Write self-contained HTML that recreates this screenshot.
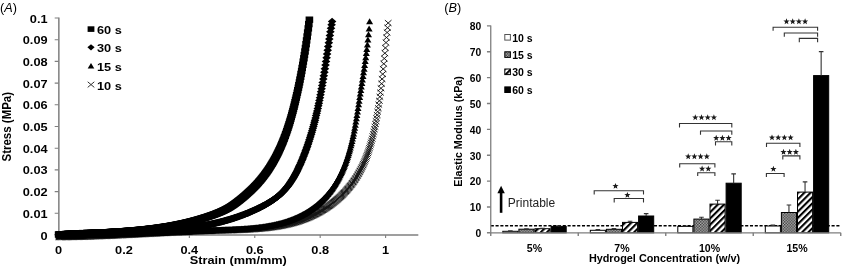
<!DOCTYPE html>
<html><head><meta charset="utf-8"><style>
html,body{margin:0;padding:0;background:#fff;}
svg{display:block;font-family:"Liberation Sans",sans-serif;will-change:transform;}
</style></head><body>
<svg width="842" height="267" viewBox="0 0 842 267">
<rect width="842" height="267" fill="#fff"/>
<text x="0.1" y="11.6" font-size="12.7" fill="#000">(<tspan font-style="italic">A</tspan>)</text>
<path d="M58.50,235.00H418.31" fill="none" stroke="#7f7f7f" stroke-width="1.3"/>
<path d="M58.85,17.50V235.60" fill="none" stroke="#7f7f7f" stroke-width="1.5"/>
<text transform="translate(47.60,239.50) scale(1.16,1)" text-anchor="end" font-size="11" font-weight="bold" fill="#000">0</text>
<text transform="translate(47.60,217.80) scale(1.16,1)" text-anchor="end" font-size="11" font-weight="bold" fill="#000">0.01</text>
<text transform="translate(47.60,196.10) scale(1.16,1)" text-anchor="end" font-size="11" font-weight="bold" fill="#000">0.02</text>
<text transform="translate(47.60,174.40) scale(1.16,1)" text-anchor="end" font-size="11" font-weight="bold" fill="#000">0.03</text>
<text transform="translate(47.60,152.70) scale(1.16,1)" text-anchor="end" font-size="11" font-weight="bold" fill="#000">0.04</text>
<text transform="translate(47.60,131.00) scale(1.16,1)" text-anchor="end" font-size="11" font-weight="bold" fill="#000">0.05</text>
<text transform="translate(47.60,109.30) scale(1.16,1)" text-anchor="end" font-size="11" font-weight="bold" fill="#000">0.06</text>
<text transform="translate(47.60,87.60) scale(1.16,1)" text-anchor="end" font-size="11" font-weight="bold" fill="#000">0.07</text>
<text transform="translate(47.60,65.90) scale(1.16,1)" text-anchor="end" font-size="11" font-weight="bold" fill="#000">0.08</text>
<text transform="translate(47.60,44.20) scale(1.16,1)" text-anchor="end" font-size="11" font-weight="bold" fill="#000">0.09</text>
<text transform="translate(47.60,22.50) scale(1.16,1)" text-anchor="end" font-size="11" font-weight="bold" fill="#000">0.1</text>
<text transform="translate(58.50,253.50) scale(1.16,1)" text-anchor="middle" font-size="11" font-weight="bold" fill="#000">0</text>
<text transform="translate(123.92,253.50) scale(1.16,1)" text-anchor="middle" font-size="11" font-weight="bold" fill="#000">0.2</text>
<text transform="translate(189.34,253.50) scale(1.16,1)" text-anchor="middle" font-size="11" font-weight="bold" fill="#000">0.4</text>
<text transform="translate(254.76,253.50) scale(1.16,1)" text-anchor="middle" font-size="11" font-weight="bold" fill="#000">0.6</text>
<text transform="translate(320.18,253.50) scale(1.16,1)" text-anchor="middle" font-size="11" font-weight="bold" fill="#000">0.8</text>
<text transform="translate(385.60,253.50) scale(1.16,1)" text-anchor="middle" font-size="11" font-weight="bold" fill="#000">1</text>
<path d="M54.70,235.00H58.50M54.70,213.30H58.50M54.70,191.60H58.50M54.70,169.90H58.50M54.70,148.20H58.50M54.70,126.50H58.50M54.70,104.80H58.50M54.70,83.10H58.50M54.70,61.40H58.50M54.70,39.70H58.50M54.70,18.00H58.50M58.50,235.00V238.00M123.92,235.00V238.00M189.34,235.00V238.00M254.76,235.00V238.00M320.18,235.00V238.00M385.60,235.00V238.00" stroke="#7f7f7f" stroke-width="1.1" fill="none"/>
<text transform="translate(238.30,263.60) scale(1.16,1)" text-anchor="middle" font-size="11" font-weight="bold" fill="#000">Strain (mm/mm)</text>
<text transform="translate(11.2,126.7) scale(1.16,1) rotate(-90)" text-anchor="middle" font-size="11.5" font-weight="bold">Stress (MPa)</text>
<defs><rect id="mq" x="-3.8" y="-3.2" width="7.6" height="6.4" fill="#000"/><path id="md" d="M0,-3.7L4.3,0L0,3.7L-4.3,0Z" fill="#000"/><path id="mt" d="M0,-3.3L3.5,2.7H-3.5Z" fill="#000"/><path id="mx" d="M-3.3,-2.9L3.3,2.9M3.3,-2.9L-3.3,2.9" stroke="#151515" stroke-width="0.95" fill="none"/><rect id="lq" x="-3.4" y="-2.8" width="6.8" height="5.6" fill="#000"/><path id="ld" d="M0,-3.1L3.6,0L0,3.1L-3.6,0Z" fill="#000"/><path id="lt" d="M0,-3.1L3.3,2.5H-3.3Z" fill="#000"/><path id="lx" d="M-3.3,-2.8L3.3,2.8M3.3,-2.8L-3.3,2.8" stroke="#333" stroke-width="1" fill="none"/></defs>
<g><use href="#mx" x="58.7" y="237.0"/><use href="#mx" x="59.3" y="237.0"/><use href="#mx" x="59.8" y="237.0"/><use href="#mx" x="60.4" y="237.0"/><use href="#mx" x="60.9" y="237.0"/><use href="#mx" x="61.5" y="237.0"/><use href="#mx" x="62.0" y="237.0"/><use href="#mx" x="62.6" y="236.9"/><use href="#mx" x="63.1" y="236.9"/><use href="#mx" x="63.7" y="236.9"/><use href="#mx" x="64.2" y="236.9"/><use href="#mx" x="64.8" y="236.9"/><use href="#mx" x="65.3" y="236.9"/><use href="#mx" x="65.9" y="236.9"/><use href="#mx" x="66.4" y="236.9"/><use href="#mx" x="67.0" y="236.9"/><use href="#mx" x="67.5" y="236.9"/><use href="#mx" x="68.1" y="236.9"/><use href="#mx" x="68.6" y="236.9"/><use href="#mx" x="69.2" y="236.8"/><use href="#mx" x="69.7" y="236.8"/><use href="#mx" x="70.3" y="236.8"/><use href="#mx" x="70.8" y="236.8"/><use href="#mx" x="71.4" y="236.8"/><use href="#mx" x="71.9" y="236.8"/><use href="#mx" x="72.5" y="236.8"/><use href="#mx" x="73.0" y="236.8"/><use href="#mx" x="73.6" y="236.8"/><use href="#mx" x="74.1" y="236.7"/><use href="#mx" x="74.7" y="236.7"/><use href="#mx" x="75.2" y="236.7"/><use href="#mx" x="75.8" y="236.7"/><use href="#mx" x="76.3" y="236.7"/><use href="#mx" x="76.9" y="236.7"/><use href="#mx" x="77.4" y="236.7"/><use href="#mx" x="78.0" y="236.6"/><use href="#mx" x="78.5" y="236.6"/><use href="#mx" x="79.1" y="236.6"/><use href="#mx" x="79.6" y="236.6"/><use href="#mx" x="80.2" y="236.6"/><use href="#mx" x="80.7" y="236.6"/><use href="#mx" x="81.3" y="236.6"/><use href="#mx" x="81.8" y="236.5"/><use href="#mx" x="82.4" y="236.5"/><use href="#mx" x="82.9" y="236.5"/><use href="#mx" x="83.5" y="236.5"/><use href="#mx" x="84.0" y="236.5"/><use href="#mx" x="84.6" y="236.5"/><use href="#mx" x="85.1" y="236.5"/><use href="#mx" x="85.7" y="236.4"/><use href="#mx" x="86.2" y="236.4"/><use href="#mx" x="86.8" y="236.4"/><use href="#mx" x="87.3" y="236.4"/><use href="#mx" x="87.9" y="236.4"/><use href="#mx" x="88.4" y="236.4"/><use href="#mx" x="89.0" y="236.3"/><use href="#mx" x="89.5" y="236.3"/><use href="#mx" x="90.1" y="236.3"/><use href="#mx" x="90.6" y="236.3"/><use href="#mx" x="91.2" y="236.3"/><use href="#mx" x="91.7" y="236.2"/><use href="#mx" x="92.3" y="236.2"/><use href="#mx" x="92.8" y="236.2"/><use href="#mx" x="93.4" y="236.2"/><use href="#mx" x="93.9" y="236.2"/><use href="#mx" x="94.5" y="236.1"/><use href="#mx" x="95.0" y="236.1"/><use href="#mx" x="95.6" y="236.1"/><use href="#mx" x="96.1" y="236.1"/><use href="#mx" x="96.7" y="236.1"/><use href="#mx" x="97.2" y="236.1"/><use href="#mx" x="97.8" y="236.0"/><use href="#mx" x="98.3" y="236.0"/><use href="#mx" x="98.9" y="236.0"/><use href="#mx" x="99.4" y="236.0"/><use href="#mx" x="100.0" y="235.9"/><use href="#mx" x="100.5" y="235.9"/><use href="#mx" x="101.1" y="235.9"/><use href="#mx" x="101.6" y="235.9"/><use href="#mx" x="102.2" y="235.9"/><use href="#mx" x="102.7" y="235.8"/><use href="#mx" x="103.3" y="235.8"/><use href="#mx" x="103.8" y="235.8"/><use href="#mx" x="104.4" y="235.8"/><use href="#mx" x="104.9" y="235.8"/><use href="#mx" x="105.5" y="235.7"/><use href="#mx" x="106.0" y="235.7"/><use href="#mx" x="106.6" y="235.7"/><use href="#mx" x="107.1" y="235.7"/><use href="#mx" x="107.7" y="235.6"/><use href="#mx" x="108.2" y="235.6"/><use href="#mx" x="108.8" y="235.6"/><use href="#mx" x="109.3" y="235.6"/><use href="#mx" x="109.9" y="235.5"/><use href="#mx" x="110.4" y="235.5"/><use href="#mx" x="111.0" y="235.5"/><use href="#mx" x="111.5" y="235.5"/><use href="#mx" x="112.1" y="235.5"/><use href="#mx" x="112.6" y="235.4"/><use href="#mx" x="113.2" y="235.4"/><use href="#mx" x="113.7" y="235.4"/><use href="#mx" x="114.3" y="235.4"/><use href="#mx" x="114.8" y="235.3"/><use href="#mx" x="115.4" y="235.3"/><use href="#mx" x="115.9" y="235.3"/><use href="#mx" x="116.5" y="235.3"/><use href="#mx" x="117.0" y="235.2"/><use href="#mx" x="117.6" y="235.2"/><use href="#mx" x="118.1" y="235.2"/><use href="#mx" x="118.7" y="235.2"/><use href="#mx" x="119.2" y="235.1"/><use href="#mx" x="119.8" y="235.1"/><use href="#mx" x="120.3" y="235.1"/><use href="#mx" x="120.9" y="235.1"/><use href="#mx" x="121.4" y="235.0"/><use href="#mx" x="122.0" y="235.0"/><use href="#mx" x="122.5" y="235.0"/><use href="#mx" x="123.1" y="235.0"/><use href="#mx" x="123.6" y="234.9"/><use href="#mx" x="124.2" y="234.9"/><use href="#mx" x="124.7" y="234.9"/><use href="#mx" x="125.3" y="234.9"/><use href="#mx" x="125.8" y="234.8"/><use href="#mx" x="126.4" y="234.8"/><use href="#mx" x="126.9" y="234.8"/><use href="#mx" x="127.5" y="234.7"/><use href="#mx" x="128.0" y="234.7"/><use href="#mx" x="128.6" y="234.7"/><use href="#mx" x="129.1" y="234.7"/><use href="#mx" x="129.7" y="234.6"/><use href="#mx" x="130.2" y="234.6"/><use href="#mx" x="130.8" y="234.6"/><use href="#mx" x="131.3" y="234.6"/><use href="#mx" x="131.9" y="234.5"/><use href="#mx" x="132.4" y="234.5"/><use href="#mx" x="133.0" y="234.5"/><use href="#mx" x="133.5" y="234.4"/><use href="#mx" x="134.1" y="234.4"/><use href="#mx" x="134.6" y="234.4"/><use href="#mx" x="135.2" y="234.4"/><use href="#mx" x="135.7" y="234.3"/><use href="#mx" x="136.3" y="234.3"/><use href="#mx" x="136.8" y="234.3"/><use href="#mx" x="137.4" y="234.3"/><use href="#mx" x="137.9" y="234.2"/><use href="#mx" x="138.5" y="234.2"/><use href="#mx" x="139.0" y="234.2"/><use href="#mx" x="139.6" y="234.1"/><use href="#mx" x="140.1" y="234.1"/><use href="#mx" x="140.7" y="234.1"/><use href="#mx" x="141.2" y="234.1"/><use href="#mx" x="141.8" y="234.0"/><use href="#mx" x="142.3" y="234.0"/><use href="#mx" x="142.9" y="234.0"/><use href="#mx" x="143.4" y="233.9"/><use href="#mx" x="144.0" y="233.9"/><use href="#mx" x="144.5" y="233.9"/><use href="#mx" x="145.1" y="233.9"/><use href="#mx" x="145.6" y="233.8"/><use href="#mx" x="146.2" y="233.8"/><use href="#mx" x="146.7" y="233.8"/><use href="#mx" x="147.3" y="233.8"/><use href="#mx" x="147.8" y="233.7"/><use href="#mx" x="148.4" y="233.7"/><use href="#mx" x="148.9" y="233.7"/><use href="#mx" x="149.5" y="233.6"/><use href="#mx" x="150.0" y="233.6"/><use href="#mx" x="150.6" y="233.6"/><use href="#mx" x="151.1" y="233.6"/><use href="#mx" x="151.7" y="233.5"/><use href="#mx" x="152.2" y="233.5"/><use href="#mx" x="152.8" y="233.5"/><use href="#mx" x="153.3" y="233.4"/><use href="#mx" x="153.9" y="233.4"/><use href="#mx" x="154.4" y="233.4"/><use href="#mx" x="155.0" y="233.4"/><use href="#mx" x="155.5" y="233.3"/><use href="#mx" x="156.1" y="233.3"/><use href="#mx" x="156.6" y="233.3"/><use href="#mx" x="157.2" y="233.2"/><use href="#mx" x="157.7" y="233.2"/><use href="#mx" x="158.3" y="233.2"/><use href="#mx" x="158.8" y="233.2"/><use href="#mx" x="159.4" y="233.1"/><use href="#mx" x="159.9" y="233.1"/><use href="#mx" x="160.5" y="233.1"/><use href="#mx" x="161.0" y="233.0"/><use href="#mx" x="161.6" y="233.0"/><use href="#mx" x="162.1" y="233.0"/><use href="#mx" x="162.7" y="233.0"/><use href="#mx" x="163.2" y="232.9"/><use href="#mx" x="163.8" y="232.9"/><use href="#mx" x="164.3" y="232.9"/><use href="#mx" x="164.9" y="232.8"/><use href="#mx" x="165.4" y="232.8"/><use href="#mx" x="166.0" y="232.8"/><use href="#mx" x="166.5" y="232.8"/><use href="#mx" x="167.1" y="232.7"/><use href="#mx" x="167.6" y="232.7"/><use href="#mx" x="168.2" y="232.7"/><use href="#mx" x="168.7" y="232.6"/><use href="#mx" x="169.3" y="232.6"/><use href="#mx" x="169.8" y="232.6"/><use href="#mx" x="170.4" y="232.6"/><use href="#mx" x="170.9" y="232.5"/><use href="#mx" x="171.5" y="232.5"/><use href="#mx" x="172.0" y="232.5"/><use href="#mx" x="172.6" y="232.5"/><use href="#mx" x="173.1" y="232.4"/><use href="#mx" x="173.7" y="232.4"/><use href="#mx" x="174.2" y="232.4"/><use href="#mx" x="174.8" y="232.3"/><use href="#mx" x="175.3" y="232.3"/><use href="#mx" x="175.9" y="232.3"/><use href="#mx" x="176.4" y="232.3"/><use href="#mx" x="177.0" y="232.2"/><use href="#mx" x="177.5" y="232.2"/><use href="#mx" x="178.1" y="232.2"/><use href="#mx" x="178.6" y="232.2"/><use href="#mx" x="179.2" y="232.1"/><use href="#mx" x="179.7" y="232.1"/><use href="#mx" x="180.3" y="232.1"/><use href="#mx" x="180.8" y="232.0"/><use href="#mx" x="181.4" y="232.0"/><use href="#mx" x="181.9" y="232.0"/><use href="#mx" x="182.5" y="232.0"/><use href="#mx" x="183.0" y="231.9"/><use href="#mx" x="183.6" y="231.9"/><use href="#mx" x="184.1" y="231.9"/><use href="#mx" x="184.7" y="231.9"/><use href="#mx" x="185.2" y="231.8"/><use href="#mx" x="185.8" y="231.8"/><use href="#mx" x="186.3" y="231.8"/><use href="#mx" x="186.9" y="231.8"/><use href="#mx" x="187.4" y="231.7"/><use href="#mx" x="188.0" y="231.7"/><use href="#mx" x="188.5" y="231.7"/><use href="#mx" x="189.1" y="231.7"/><use href="#mx" x="189.6" y="231.6"/><use href="#mx" x="190.2" y="231.6"/><use href="#mx" x="190.7" y="231.6"/><use href="#mx" x="191.3" y="231.6"/><use href="#mx" x="191.8" y="231.5"/><use href="#mx" x="192.4" y="231.5"/><use href="#mx" x="192.9" y="231.5"/><use href="#mx" x="193.5" y="231.5"/><use href="#mx" x="194.0" y="231.4"/><use href="#mx" x="194.6" y="231.4"/><use href="#mx" x="195.1" y="231.4"/><use href="#mx" x="195.7" y="231.4"/><use href="#mx" x="196.2" y="231.3"/><use href="#mx" x="196.8" y="231.3"/><use href="#mx" x="197.3" y="231.3"/><use href="#mx" x="197.9" y="231.3"/><use href="#mx" x="198.4" y="231.2"/><use href="#mx" x="199.0" y="231.2"/><use href="#mx" x="199.5" y="231.2"/><use href="#mx" x="200.1" y="231.2"/><use href="#mx" x="200.6" y="231.1"/><use href="#mx" x="201.2" y="231.1"/><use href="#mx" x="201.7" y="231.1"/><use href="#mx" x="202.3" y="231.1"/><use href="#mx" x="202.8" y="231.1"/><use href="#mx" x="203.4" y="231.0"/><use href="#mx" x="203.9" y="231.0"/><use href="#mx" x="204.5" y="231.0"/><use href="#mx" x="205.0" y="231.0"/><use href="#mx" x="205.6" y="230.9"/><use href="#mx" x="206.1" y="230.9"/><use href="#mx" x="206.7" y="230.9"/><use href="#mx" x="207.2" y="230.9"/><use href="#mx" x="207.8" y="230.9"/><use href="#mx" x="208.3" y="230.8"/><use href="#mx" x="208.9" y="230.8"/><use href="#mx" x="209.4" y="230.8"/><use href="#mx" x="210.0" y="230.8"/><use href="#mx" x="210.5" y="230.8"/><use href="#mx" x="211.1" y="230.7"/><use href="#mx" x="211.6" y="230.7"/><use href="#mx" x="212.2" y="230.7"/><use href="#mx" x="212.7" y="230.7"/><use href="#mx" x="213.3" y="230.7"/><use href="#mx" x="213.8" y="230.6"/><use href="#mx" x="214.4" y="230.6"/><use href="#mx" x="214.9" y="230.6"/><use href="#mx" x="215.5" y="230.6"/><use href="#mx" x="216.0" y="230.6"/><use href="#mx" x="216.6" y="230.5"/><use href="#mx" x="217.1" y="230.5"/><use href="#mx" x="217.7" y="230.5"/><use href="#mx" x="218.2" y="230.5"/><use href="#mx" x="218.8" y="230.5"/><use href="#mx" x="219.3" y="230.4"/><use href="#mx" x="219.9" y="230.4"/><use href="#mx" x="220.4" y="230.4"/><use href="#mx" x="221.0" y="230.4"/><use href="#mx" x="221.5" y="230.4"/><use href="#mx" x="222.1" y="230.4"/><use href="#mx" x="222.6" y="230.3"/><use href="#mx" x="223.2" y="230.3"/><use href="#mx" x="223.7" y="230.3"/><use href="#mx" x="224.3" y="230.3"/><use href="#mx" x="224.8" y="230.3"/><use href="#mx" x="225.4" y="230.3"/><use href="#mx" x="225.9" y="230.2"/><use href="#mx" x="226.5" y="230.2"/><use href="#mx" x="227.0" y="230.2"/><use href="#mx" x="227.6" y="230.2"/><use href="#mx" x="228.1" y="230.2"/><use href="#mx" x="228.7" y="230.2"/><use href="#mx" x="229.2" y="230.1"/><use href="#mx" x="229.8" y="230.1"/><use href="#mx" x="230.3" y="230.1"/><use href="#mx" x="230.9" y="230.1"/><use href="#mx" x="231.4" y="230.1"/><use href="#mx" x="232.0" y="230.1"/><use href="#mx" x="232.5" y="230.0"/><use href="#mx" x="233.1" y="230.0"/><use href="#mx" x="233.6" y="230.0"/><use href="#mx" x="234.2" y="230.0"/><use href="#mx" x="234.7" y="230.0"/><use href="#mx" x="235.3" y="229.9"/><use href="#mx" x="235.8" y="229.9"/><use href="#mx" x="236.4" y="229.9"/><use href="#mx" x="236.9" y="229.9"/><use href="#mx" x="237.5" y="229.9"/><use href="#mx" x="238.0" y="229.8"/><use href="#mx" x="238.6" y="229.8"/><use href="#mx" x="239.1" y="229.8"/><use href="#mx" x="239.7" y="229.8"/><use href="#mx" x="240.2" y="229.8"/><use href="#mx" x="240.8" y="229.7"/><use href="#mx" x="241.3" y="229.7"/><use href="#mx" x="241.9" y="229.7"/><use href="#mx" x="242.4" y="229.7"/><use href="#mx" x="243.0" y="229.6"/><use href="#mx" x="243.5" y="229.6"/><use href="#mx" x="244.1" y="229.6"/><use href="#mx" x="244.6" y="229.6"/><use href="#mx" x="245.2" y="229.5"/><use href="#mx" x="245.7" y="229.5"/><use href="#mx" x="246.3" y="229.5"/><use href="#mx" x="246.8" y="229.4"/><use href="#mx" x="247.4" y="229.4"/><use href="#mx" x="247.9" y="229.4"/><use href="#mx" x="248.5" y="229.3"/><use href="#mx" x="249.0" y="229.3"/><use href="#mx" x="249.6" y="229.3"/><use href="#mx" x="250.1" y="229.3"/><use href="#mx" x="250.7" y="229.2"/><use href="#mx" x="251.2" y="229.2"/><use href="#mx" x="251.8" y="229.1"/><use href="#mx" x="252.3" y="229.1"/><use href="#mx" x="252.9" y="229.1"/><use href="#mx" x="253.4" y="229.0"/><use href="#mx" x="254.0" y="229.0"/><use href="#mx" x="254.5" y="229.0"/><use href="#mx" x="255.1" y="228.9"/><use href="#mx" x="255.6" y="228.9"/><use href="#mx" x="256.2" y="228.8"/><use href="#mx" x="256.7" y="228.8"/><use href="#mx" x="257.3" y="228.7"/><use href="#mx" x="257.8" y="228.7"/><use href="#mx" x="258.4" y="228.7"/><use href="#mx" x="258.9" y="228.6"/><use href="#mx" x="259.5" y="228.6"/><use href="#mx" x="260.0" y="228.5"/><use href="#mx" x="260.6" y="228.5"/><use href="#mx" x="261.1" y="228.4"/><use href="#mx" x="261.7" y="228.4"/><use href="#mx" x="262.2" y="228.3"/><use href="#mx" x="262.8" y="228.3"/><use href="#mx" x="263.3" y="228.2"/><use href="#mx" x="263.9" y="228.1"/><use href="#mx" x="264.4" y="228.1"/><use href="#mx" x="265.0" y="228.0"/><use href="#mx" x="265.5" y="228.0"/><use href="#mx" x="266.1" y="227.9"/><use href="#mx" x="266.6" y="227.8"/><use href="#mx" x="267.2" y="227.8"/><use href="#mx" x="267.7" y="227.7"/><use href="#mx" x="268.3" y="227.6"/><use href="#mx" x="268.8" y="227.6"/><use href="#mx" x="269.4" y="227.5"/><use href="#mx" x="269.9" y="227.4"/><use href="#mx" x="270.5" y="227.4"/><use href="#mx" x="271.0" y="227.3"/><use href="#mx" x="271.6" y="227.2"/><use href="#mx" x="272.1" y="227.1"/><use href="#mx" x="272.7" y="227.0"/><use href="#mx" x="273.2" y="227.0"/><use href="#mx" x="273.8" y="226.9"/><use href="#mx" x="274.3" y="226.8"/><use href="#mx" x="274.9" y="226.7"/><use href="#mx" x="275.4" y="226.6"/><use href="#mx" x="276.0" y="226.5"/><use href="#mx" x="276.5" y="226.5"/><use href="#mx" x="277.1" y="226.4"/><use href="#mx" x="277.6" y="226.3"/><use href="#mx" x="278.2" y="226.2"/><use href="#mx" x="278.7" y="226.1"/><use href="#mx" x="279.3" y="226.0"/><use href="#mx" x="279.8" y="225.9"/><use href="#mx" x="280.4" y="225.8"/><use href="#mx" x="280.9" y="225.7"/><use href="#mx" x="281.5" y="225.6"/><use href="#mx" x="282.0" y="225.5"/><use href="#mx" x="282.6" y="225.4"/><use href="#mx" x="283.1" y="225.2"/><use href="#mx" x="283.7" y="225.1"/><use href="#mx" x="284.2" y="225.0"/><use href="#mx" x="284.8" y="224.9"/><use href="#mx" x="285.3" y="224.8"/><use href="#mx" x="285.9" y="224.6"/><use href="#mx" x="286.4" y="224.5"/><use href="#mx" x="287.0" y="224.4"/><use href="#mx" x="287.5" y="224.3"/><use href="#mx" x="288.1" y="224.1"/><use href="#mx" x="288.6" y="224.0"/><use href="#mx" x="289.2" y="223.9"/><use href="#mx" x="289.7" y="223.7"/><use href="#mx" x="290.3" y="223.6"/><use href="#mx" x="290.8" y="223.5"/><use href="#mx" x="291.4" y="223.3"/><use href="#mx" x="291.9" y="223.2"/><use href="#mx" x="292.5" y="223.0"/><use href="#mx" x="293.0" y="222.9"/><use href="#mx" x="293.6" y="222.7"/><use href="#mx" x="294.1" y="222.5"/><use href="#mx" x="294.7" y="222.4"/><use href="#mx" x="295.2" y="222.2"/><use href="#mx" x="295.8" y="222.1"/><use href="#mx" x="296.3" y="221.9"/><use href="#mx" x="296.9" y="221.7"/><use href="#mx" x="297.4" y="221.5"/><use href="#mx" x="298.0" y="221.4"/><use href="#mx" x="298.5" y="221.2"/><use href="#mx" x="299.1" y="221.0"/><use href="#mx" x="299.6" y="220.8"/><use href="#mx" x="300.2" y="220.6"/><use href="#mx" x="300.7" y="220.4"/><use href="#mx" x="301.3" y="220.2"/><use href="#mx" x="301.8" y="220.0"/><use href="#mx" x="302.4" y="219.8"/><use href="#mx" x="302.9" y="219.6"/><use href="#mx" x="303.5" y="219.4"/><use href="#mx" x="304.0" y="219.2"/><use href="#mx" x="304.6" y="219.0"/><use href="#mx" x="305.1" y="218.8"/><use href="#mx" x="305.7" y="218.6"/><use href="#mx" x="306.2" y="218.4"/><use href="#mx" x="306.8" y="218.1"/><use href="#mx" x="307.3" y="217.9"/><use href="#mx" x="307.9" y="217.7"/><use href="#mx" x="308.4" y="217.4"/><use href="#mx" x="309.0" y="217.2"/><use href="#mx" x="309.5" y="217.0"/><use href="#mx" x="310.1" y="216.7"/><use href="#mx" x="310.6" y="216.5"/><use href="#mx" x="311.2" y="216.2"/><use href="#mx" x="311.7" y="215.9"/><use href="#mx" x="312.3" y="215.7"/><use href="#mx" x="312.8" y="215.4"/><use href="#mx" x="313.4" y="215.2"/><use href="#mx" x="313.9" y="214.9"/><use href="#mx" x="314.5" y="214.6"/><use href="#mx" x="315.0" y="214.3"/><use href="#mx" x="315.6" y="214.1"/><use href="#mx" x="316.1" y="213.8"/><use href="#mx" x="316.7" y="213.5"/><use href="#mx" x="317.2" y="213.2"/><use href="#mx" x="317.8" y="212.9"/><use href="#mx" x="318.3" y="212.6"/><use href="#mx" x="318.9" y="212.3"/><use href="#mx" x="319.4" y="212.0"/><use href="#mx" x="320.0" y="211.7"/><use href="#mx" x="320.5" y="211.3"/><use href="#mx" x="321.1" y="211.0"/><use href="#mx" x="321.6" y="210.7"/><use href="#mx" x="322.2" y="210.4"/><use href="#mx" x="322.7" y="210.0"/><use href="#mx" x="323.3" y="209.7"/><use href="#mx" x="323.8" y="209.4"/><use href="#mx" x="324.4" y="209.0"/><use href="#mx" x="324.9" y="208.7"/><use href="#mx" x="325.5" y="208.3"/><use href="#mx" x="326.0" y="207.9"/><use href="#mx" x="326.6" y="207.6"/><use href="#mx" x="327.1" y="207.2"/><use href="#mx" x="327.7" y="206.8"/><use href="#mx" x="328.2" y="206.4"/><use href="#mx" x="328.8" y="206.1"/><use href="#mx" x="329.3" y="205.7"/><use href="#mx" x="329.9" y="205.3"/><use href="#mx" x="330.4" y="204.9"/><use href="#mx" x="331.0" y="204.5"/><use href="#mx" x="331.5" y="204.1"/><use href="#mx" x="332.1" y="203.6"/><use href="#mx" x="332.6" y="203.2"/><use href="#mx" x="333.2" y="202.8"/><use href="#mx" x="333.7" y="202.4"/><use href="#mx" x="334.3" y="201.9"/><use href="#mx" x="334.8" y="201.5"/><use href="#mx" x="335.4" y="201.0"/><use href="#mx" x="335.9" y="200.6"/><use href="#mx" x="336.5" y="200.1"/><use href="#mx" x="337.0" y="199.6"/><use href="#mx" x="337.6" y="199.2"/><use href="#mx" x="338.1" y="198.7"/><use href="#mx" x="338.7" y="198.2"/><use href="#mx" x="339.2" y="197.7"/><use href="#mx" x="339.8" y="197.2"/><use href="#mx" x="340.3" y="196.7"/><use href="#mx" x="340.9" y="196.2"/><use href="#mx" x="341.4" y="195.6"/><use href="#mx" x="342.0" y="195.1"/><use href="#mx" x="342.5" y="194.6"/><use href="#mx" x="343.1" y="194.0"/><use href="#mx" x="343.6" y="193.4"/><use href="#mx" x="344.2" y="192.9"/><use href="#mx" x="344.7" y="192.3"/><use href="#mx" x="345.3" y="191.7"/><use href="#mx" x="345.8" y="191.1"/><use href="#mx" x="346.4" y="190.5"/><use href="#mx" x="346.9" y="189.9"/><use href="#mx" x="347.5" y="189.3"/><use href="#mx" x="348.0" y="188.6"/><use href="#mx" x="348.6" y="188.0"/><use href="#mx" x="349.1" y="187.3"/><use href="#mx" x="349.7" y="186.7"/><use href="#mx" x="350.2" y="186.0"/><use href="#mx" x="350.8" y="185.3"/><use href="#mx" x="351.3" y="184.6"/><use href="#mx" x="351.9" y="183.8"/><use href="#mx" x="352.4" y="183.1"/><use href="#mx" x="353.0" y="182.3"/><use href="#mx" x="353.5" y="181.6"/><use href="#mx" x="354.1" y="180.8"/><use href="#mx" x="354.6" y="180.0"/><use href="#mx" x="355.2" y="179.2"/><use href="#mx" x="355.7" y="178.3"/><use href="#mx" x="356.3" y="177.5"/><use href="#mx" x="356.8" y="176.6"/><use href="#mx" x="357.4" y="175.7"/><use href="#mx" x="357.9" y="174.7"/><use href="#mx" x="358.5" y="173.8"/><use href="#mx" x="359.0" y="172.8"/><use href="#mx" x="359.6" y="171.8"/><use href="#mx" x="360.1" y="170.8"/><use href="#mx" x="360.7" y="169.8"/><use href="#mx" x="361.2" y="168.7"/><use href="#mx" x="361.8" y="167.6"/><use href="#mx" x="362.3" y="166.5"/><use href="#mx" x="362.9" y="165.3"/><use href="#mx" x="363.4" y="164.1"/><use href="#mx" x="364.0" y="162.9"/><use href="#mx" x="364.5" y="161.6"/><use href="#mx" x="365.1" y="160.3"/><use href="#mx" x="365.6" y="158.9"/><use href="#mx" x="366.2" y="157.5"/><use href="#mx" x="366.7" y="156.1"/><use href="#mx" x="367.3" y="154.6"/><use href="#mx" x="367.8" y="153.1"/><use href="#mx" x="368.4" y="151.5"/><use href="#mx" x="368.9" y="149.9"/><use href="#mx" x="369.5" y="148.2"/><use href="#mx" x="370.0" y="146.4"/><use href="#mx" x="370.6" y="144.5"/><use href="#mx" x="371.1" y="142.6"/><use href="#mx" x="371.7" y="140.7"/><use href="#mx" x="372.2" y="138.6"/><use href="#mx" x="372.8" y="136.4"/><use href="#mx" x="373.3" y="134.2"/><use href="#mx" x="373.9" y="131.8"/><use href="#mx" x="374.4" y="129.3"/><use href="#mx" x="375.0" y="126.8"/><use href="#mx" x="375.5" y="124.0"/><use href="#mx" x="376.1" y="121.2"/><use href="#mx" x="376.6" y="118.2"/><use href="#mx" x="377.2" y="115.0"/><use href="#mx" x="377.7" y="111.7"/><use href="#mx" x="378.3" y="108.2"/><use href="#mx" x="378.8" y="104.6"/><use href="#mx" x="379.4" y="100.8"/><use href="#mx" x="379.9" y="96.8"/><use href="#mx" x="380.5" y="92.6"/><use href="#mx" x="381.0" y="88.3"/><use href="#mx" x="381.6" y="83.7"/><use href="#mx" x="382.1" y="79.0"/><use href="#mx" x="382.7" y="74.1"/><use href="#mx" x="383.2" y="69.0"/><use href="#mx" x="383.8" y="63.8"/><use href="#mx" x="384.3" y="58.5"/><use href="#mx" x="384.9" y="53.2"/><use href="#mx" x="385.4" y="47.9"/><use href="#mx" x="386.0" y="42.6"/><use href="#mx" x="386.5" y="37.5"/><use href="#mx" x="387.1" y="32.5"/><use href="#mx" x="387.6" y="27.7"/><use href="#mx" x="388.2" y="23.0"/></g>
<g><use href="#mt" x="58.8" y="236.0"/><use href="#mt" x="59.4" y="236.0"/><use href="#mt" x="59.9" y="236.0"/><use href="#mt" x="60.5" y="236.0"/><use href="#mt" x="61.0" y="236.0"/><use href="#mt" x="61.6" y="235.9"/><use href="#mt" x="62.1" y="235.9"/><use href="#mt" x="62.7" y="235.9"/><use href="#mt" x="63.2" y="235.9"/><use href="#mt" x="63.8" y="235.9"/><use href="#mt" x="64.3" y="235.9"/><use href="#mt" x="64.9" y="235.9"/><use href="#mt" x="65.4" y="235.9"/><use href="#mt" x="66.0" y="235.9"/><use href="#mt" x="66.5" y="235.9"/><use href="#mt" x="67.1" y="235.8"/><use href="#mt" x="67.6" y="235.8"/><use href="#mt" x="68.2" y="235.8"/><use href="#mt" x="68.7" y="235.8"/><use href="#mt" x="69.3" y="235.8"/><use href="#mt" x="69.8" y="235.8"/><use href="#mt" x="70.4" y="235.8"/><use href="#mt" x="70.9" y="235.8"/><use href="#mt" x="71.5" y="235.8"/><use href="#mt" x="72.0" y="235.7"/><use href="#mt" x="72.6" y="235.7"/><use href="#mt" x="73.1" y="235.7"/><use href="#mt" x="73.7" y="235.7"/><use href="#mt" x="74.2" y="235.7"/><use href="#mt" x="74.8" y="235.7"/><use href="#mt" x="75.3" y="235.7"/><use href="#mt" x="75.9" y="235.7"/><use href="#mt" x="76.4" y="235.6"/><use href="#mt" x="77.0" y="235.6"/><use href="#mt" x="77.5" y="235.6"/><use href="#mt" x="78.1" y="235.6"/><use href="#mt" x="78.6" y="235.6"/><use href="#mt" x="79.2" y="235.6"/><use href="#mt" x="79.7" y="235.6"/><use href="#mt" x="80.3" y="235.6"/><use href="#mt" x="80.8" y="235.5"/><use href="#mt" x="81.4" y="235.5"/><use href="#mt" x="81.9" y="235.5"/><use href="#mt" x="82.5" y="235.5"/><use href="#mt" x="83.0" y="235.5"/><use href="#mt" x="83.6" y="235.5"/><use href="#mt" x="84.1" y="235.5"/><use href="#mt" x="84.7" y="235.4"/><use href="#mt" x="85.2" y="235.4"/><use href="#mt" x="85.8" y="235.4"/><use href="#mt" x="86.3" y="235.4"/><use href="#mt" x="86.9" y="235.4"/><use href="#mt" x="87.4" y="235.4"/><use href="#mt" x="88.0" y="235.4"/><use href="#mt" x="88.5" y="235.3"/><use href="#mt" x="89.1" y="235.3"/><use href="#mt" x="89.6" y="235.3"/><use href="#mt" x="90.2" y="235.3"/><use href="#mt" x="90.7" y="235.3"/><use href="#mt" x="91.3" y="235.3"/><use href="#mt" x="91.8" y="235.3"/><use href="#mt" x="92.4" y="235.2"/><use href="#mt" x="92.9" y="235.2"/><use href="#mt" x="93.5" y="235.2"/><use href="#mt" x="94.0" y="235.2"/><use href="#mt" x="94.6" y="235.2"/><use href="#mt" x="95.1" y="235.2"/><use href="#mt" x="95.7" y="235.1"/><use href="#mt" x="96.2" y="235.1"/><use href="#mt" x="96.8" y="235.1"/><use href="#mt" x="97.3" y="235.1"/><use href="#mt" x="97.9" y="235.1"/><use href="#mt" x="98.4" y="235.1"/><use href="#mt" x="99.0" y="235.0"/><use href="#mt" x="99.5" y="235.0"/><use href="#mt" x="100.1" y="235.0"/><use href="#mt" x="100.6" y="235.0"/><use href="#mt" x="101.2" y="235.0"/><use href="#mt" x="101.7" y="235.0"/><use href="#mt" x="102.3" y="234.9"/><use href="#mt" x="102.8" y="234.9"/><use href="#mt" x="103.4" y="234.9"/><use href="#mt" x="103.9" y="234.9"/><use href="#mt" x="104.5" y="234.9"/><use href="#mt" x="105.0" y="234.9"/><use href="#mt" x="105.6" y="234.8"/><use href="#mt" x="106.1" y="234.8"/><use href="#mt" x="106.7" y="234.8"/><use href="#mt" x="107.2" y="234.8"/><use href="#mt" x="107.8" y="234.8"/><use href="#mt" x="108.3" y="234.7"/><use href="#mt" x="108.9" y="234.7"/><use href="#mt" x="109.4" y="234.7"/><use href="#mt" x="110.0" y="234.7"/><use href="#mt" x="110.5" y="234.7"/><use href="#mt" x="111.1" y="234.7"/><use href="#mt" x="111.6" y="234.6"/><use href="#mt" x="112.2" y="234.6"/><use href="#mt" x="112.7" y="234.6"/><use href="#mt" x="113.3" y="234.6"/><use href="#mt" x="113.8" y="234.6"/><use href="#mt" x="114.4" y="234.5"/><use href="#mt" x="114.9" y="234.5"/><use href="#mt" x="115.5" y="234.5"/><use href="#mt" x="116.0" y="234.5"/><use href="#mt" x="116.6" y="234.5"/><use href="#mt" x="117.1" y="234.4"/><use href="#mt" x="117.7" y="234.4"/><use href="#mt" x="118.2" y="234.4"/><use href="#mt" x="118.8" y="234.4"/><use href="#mt" x="119.3" y="234.4"/><use href="#mt" x="119.9" y="234.3"/><use href="#mt" x="120.4" y="234.3"/><use href="#mt" x="121.0" y="234.3"/><use href="#mt" x="121.5" y="234.3"/><use href="#mt" x="122.1" y="234.3"/><use href="#mt" x="122.6" y="234.2"/><use href="#mt" x="123.2" y="234.2"/><use href="#mt" x="123.7" y="234.2"/><use href="#mt" x="124.3" y="234.2"/><use href="#mt" x="124.8" y="234.2"/><use href="#mt" x="125.4" y="234.1"/><use href="#mt" x="125.9" y="234.1"/><use href="#mt" x="126.5" y="234.1"/><use href="#mt" x="127.0" y="234.1"/><use href="#mt" x="127.6" y="234.1"/><use href="#mt" x="128.1" y="234.0"/><use href="#mt" x="128.7" y="234.0"/><use href="#mt" x="129.2" y="234.0"/><use href="#mt" x="129.8" y="234.0"/><use href="#mt" x="130.3" y="234.0"/><use href="#mt" x="130.9" y="233.9"/><use href="#mt" x="131.4" y="233.9"/><use href="#mt" x="132.0" y="233.9"/><use href="#mt" x="132.5" y="233.9"/><use href="#mt" x="133.1" y="233.8"/><use href="#mt" x="133.6" y="233.8"/><use href="#mt" x="134.2" y="233.8"/><use href="#mt" x="134.7" y="233.8"/><use href="#mt" x="135.3" y="233.8"/><use href="#mt" x="135.8" y="233.7"/><use href="#mt" x="136.4" y="233.7"/><use href="#mt" x="136.9" y="233.7"/><use href="#mt" x="137.5" y="233.7"/><use href="#mt" x="138.0" y="233.6"/><use href="#mt" x="138.6" y="233.6"/><use href="#mt" x="139.1" y="233.6"/><use href="#mt" x="139.7" y="233.6"/><use href="#mt" x="140.2" y="233.6"/><use href="#mt" x="140.8" y="233.5"/><use href="#mt" x="141.3" y="233.5"/><use href="#mt" x="141.9" y="233.5"/><use href="#mt" x="142.4" y="233.5"/><use href="#mt" x="143.0" y="233.4"/><use href="#mt" x="143.5" y="233.4"/><use href="#mt" x="144.1" y="233.4"/><use href="#mt" x="144.6" y="233.4"/><use href="#mt" x="145.2" y="233.4"/><use href="#mt" x="145.7" y="233.3"/><use href="#mt" x="146.3" y="233.3"/><use href="#mt" x="146.8" y="233.3"/><use href="#mt" x="147.4" y="233.3"/><use href="#mt" x="147.9" y="233.2"/><use href="#mt" x="148.5" y="233.2"/><use href="#mt" x="149.0" y="233.2"/><use href="#mt" x="149.6" y="233.2"/><use href="#mt" x="150.1" y="233.2"/><use href="#mt" x="150.7" y="233.1"/><use href="#mt" x="151.2" y="233.1"/><use href="#mt" x="151.8" y="233.1"/><use href="#mt" x="152.3" y="233.1"/><use href="#mt" x="152.9" y="233.0"/><use href="#mt" x="153.4" y="233.0"/><use href="#mt" x="154.0" y="233.0"/><use href="#mt" x="154.5" y="233.0"/><use href="#mt" x="155.1" y="232.9"/><use href="#mt" x="155.6" y="232.9"/><use href="#mt" x="156.2" y="232.9"/><use href="#mt" x="156.7" y="232.9"/><use href="#mt" x="157.3" y="232.9"/><use href="#mt" x="157.8" y="232.8"/><use href="#mt" x="158.4" y="232.8"/><use href="#mt" x="158.9" y="232.8"/><use href="#mt" x="159.5" y="232.8"/><use href="#mt" x="160.0" y="232.7"/><use href="#mt" x="160.6" y="232.7"/><use href="#mt" x="161.1" y="232.7"/><use href="#mt" x="161.7" y="232.7"/><use href="#mt" x="162.2" y="232.6"/><use href="#mt" x="162.8" y="232.6"/><use href="#mt" x="163.3" y="232.6"/><use href="#mt" x="163.9" y="232.6"/><use href="#mt" x="164.4" y="232.5"/><use href="#mt" x="165.0" y="232.5"/><use href="#mt" x="165.5" y="232.5"/><use href="#mt" x="166.1" y="232.5"/><use href="#mt" x="166.6" y="232.5"/><use href="#mt" x="167.2" y="232.4"/><use href="#mt" x="167.7" y="232.4"/><use href="#mt" x="168.3" y="232.4"/><use href="#mt" x="168.8" y="232.4"/><use href="#mt" x="169.4" y="232.3"/><use href="#mt" x="169.9" y="232.3"/><use href="#mt" x="170.5" y="232.3"/><use href="#mt" x="171.0" y="232.3"/><use href="#mt" x="171.6" y="232.2"/><use href="#mt" x="172.1" y="232.2"/><use href="#mt" x="172.7" y="232.2"/><use href="#mt" x="173.2" y="232.2"/><use href="#mt" x="173.8" y="232.1"/><use href="#mt" x="174.3" y="232.1"/><use href="#mt" x="174.9" y="232.1"/><use href="#mt" x="175.4" y="232.1"/><use href="#mt" x="176.0" y="232.0"/><use href="#mt" x="176.5" y="232.0"/><use href="#mt" x="177.1" y="232.0"/><use href="#mt" x="177.6" y="232.0"/><use href="#mt" x="178.2" y="232.0"/><use href="#mt" x="178.7" y="231.9"/><use href="#mt" x="179.3" y="231.9"/><use href="#mt" x="179.8" y="231.9"/><use href="#mt" x="180.4" y="231.9"/><use href="#mt" x="180.9" y="231.8"/><use href="#mt" x="181.5" y="231.8"/><use href="#mt" x="182.0" y="231.8"/><use href="#mt" x="182.6" y="231.8"/><use href="#mt" x="183.1" y="231.7"/><use href="#mt" x="183.7" y="231.7"/><use href="#mt" x="184.2" y="231.7"/><use href="#mt" x="184.8" y="231.7"/><use href="#mt" x="185.3" y="231.6"/><use href="#mt" x="185.9" y="231.6"/><use href="#mt" x="186.4" y="231.6"/><use href="#mt" x="187.0" y="231.6"/><use href="#mt" x="187.5" y="231.5"/><use href="#mt" x="188.1" y="231.5"/><use href="#mt" x="188.6" y="231.5"/><use href="#mt" x="189.2" y="231.5"/><use href="#mt" x="189.7" y="231.5"/><use href="#mt" x="190.3" y="231.4"/><use href="#mt" x="190.8" y="231.4"/><use href="#mt" x="191.4" y="231.4"/><use href="#mt" x="191.9" y="231.4"/><use href="#mt" x="192.5" y="231.3"/><use href="#mt" x="193.0" y="231.3"/><use href="#mt" x="193.6" y="231.3"/><use href="#mt" x="194.1" y="231.3"/><use href="#mt" x="194.7" y="231.2"/><use href="#mt" x="195.2" y="231.2"/><use href="#mt" x="195.8" y="231.2"/><use href="#mt" x="196.3" y="231.2"/><use href="#mt" x="196.9" y="231.1"/><use href="#mt" x="197.4" y="231.1"/><use href="#mt" x="198.0" y="231.1"/><use href="#mt" x="198.5" y="231.1"/><use href="#mt" x="199.1" y="231.0"/><use href="#mt" x="199.6" y="231.0"/><use href="#mt" x="200.2" y="231.0"/><use href="#mt" x="200.7" y="231.0"/><use href="#mt" x="201.3" y="231.0"/><use href="#mt" x="201.8" y="230.9"/><use href="#mt" x="202.4" y="230.9"/><use href="#mt" x="202.9" y="230.9"/><use href="#mt" x="203.5" y="230.9"/><use href="#mt" x="204.0" y="230.8"/><use href="#mt" x="204.6" y="230.8"/><use href="#mt" x="205.1" y="230.8"/><use href="#mt" x="205.7" y="230.8"/><use href="#mt" x="206.2" y="230.7"/><use href="#mt" x="206.8" y="230.7"/><use href="#mt" x="207.3" y="230.7"/><use href="#mt" x="207.9" y="230.7"/><use href="#mt" x="208.4" y="230.7"/><use href="#mt" x="209.0" y="230.6"/><use href="#mt" x="209.5" y="230.6"/><use href="#mt" x="210.1" y="230.6"/><use href="#mt" x="210.6" y="230.6"/><use href="#mt" x="211.2" y="230.5"/><use href="#mt" x="211.7" y="230.5"/><use href="#mt" x="212.3" y="230.5"/><use href="#mt" x="212.8" y="230.5"/><use href="#mt" x="213.4" y="230.4"/><use href="#mt" x="213.9" y="230.4"/><use href="#mt" x="214.5" y="230.4"/><use href="#mt" x="215.0" y="230.4"/><use href="#mt" x="215.6" y="230.4"/><use href="#mt" x="216.1" y="230.3"/><use href="#mt" x="216.7" y="230.3"/><use href="#mt" x="217.2" y="230.3"/><use href="#mt" x="217.8" y="230.3"/><use href="#mt" x="218.3" y="230.2"/><use href="#mt" x="218.9" y="230.2"/><use href="#mt" x="219.4" y="230.2"/><use href="#mt" x="220.0" y="230.2"/><use href="#mt" x="220.5" y="230.1"/><use href="#mt" x="221.1" y="230.1"/><use href="#mt" x="221.6" y="230.1"/><use href="#mt" x="222.2" y="230.1"/><use href="#mt" x="222.7" y="230.1"/><use href="#mt" x="223.3" y="230.0"/><use href="#mt" x="223.8" y="230.0"/><use href="#mt" x="224.4" y="230.0"/><use href="#mt" x="224.9" y="230.0"/><use href="#mt" x="225.5" y="229.9"/><use href="#mt" x="226.0" y="229.9"/><use href="#mt" x="226.6" y="229.9"/><use href="#mt" x="227.1" y="229.9"/><use href="#mt" x="227.7" y="229.9"/><use href="#mt" x="228.2" y="229.8"/><use href="#mt" x="228.8" y="229.8"/><use href="#mt" x="229.3" y="229.8"/><use href="#mt" x="229.9" y="229.8"/><use href="#mt" x="230.4" y="229.7"/><use href="#mt" x="231.0" y="229.7"/><use href="#mt" x="231.5" y="229.7"/><use href="#mt" x="232.1" y="229.7"/><use href="#mt" x="232.6" y="229.6"/><use href="#mt" x="233.2" y="229.6"/><use href="#mt" x="233.7" y="229.6"/><use href="#mt" x="234.3" y="229.5"/><use href="#mt" x="234.8" y="229.5"/><use href="#mt" x="235.4" y="229.5"/><use href="#mt" x="235.9" y="229.5"/><use href="#mt" x="236.5" y="229.4"/><use href="#mt" x="237.0" y="229.4"/><use href="#mt" x="237.6" y="229.4"/><use href="#mt" x="238.1" y="229.3"/><use href="#mt" x="238.7" y="229.3"/><use href="#mt" x="239.2" y="229.3"/><use href="#mt" x="239.8" y="229.2"/><use href="#mt" x="240.3" y="229.2"/><use href="#mt" x="240.9" y="229.2"/><use href="#mt" x="241.4" y="229.1"/><use href="#mt" x="242.0" y="229.1"/><use href="#mt" x="242.5" y="229.1"/><use href="#mt" x="243.1" y="229.0"/><use href="#mt" x="243.6" y="229.0"/><use href="#mt" x="244.2" y="228.9"/><use href="#mt" x="244.7" y="228.9"/><use href="#mt" x="245.3" y="228.9"/><use href="#mt" x="245.8" y="228.8"/><use href="#mt" x="246.4" y="228.8"/><use href="#mt" x="246.9" y="228.7"/><use href="#mt" x="247.5" y="228.7"/><use href="#mt" x="248.0" y="228.6"/><use href="#mt" x="248.6" y="228.6"/><use href="#mt" x="249.1" y="228.6"/><use href="#mt" x="249.7" y="228.5"/><use href="#mt" x="250.2" y="228.5"/><use href="#mt" x="250.8" y="228.4"/><use href="#mt" x="251.3" y="228.4"/><use href="#mt" x="251.9" y="228.3"/><use href="#mt" x="252.4" y="228.3"/><use href="#mt" x="253.0" y="228.2"/><use href="#mt" x="253.5" y="228.1"/><use href="#mt" x="254.1" y="228.1"/><use href="#mt" x="254.6" y="228.0"/><use href="#mt" x="255.2" y="228.0"/><use href="#mt" x="255.7" y="227.9"/><use href="#mt" x="256.3" y="227.8"/><use href="#mt" x="256.8" y="227.8"/><use href="#mt" x="257.4" y="227.7"/><use href="#mt" x="257.9" y="227.7"/><use href="#mt" x="258.5" y="227.6"/><use href="#mt" x="259.0" y="227.5"/><use href="#mt" x="259.6" y="227.4"/><use href="#mt" x="260.1" y="227.4"/><use href="#mt" x="260.7" y="227.3"/><use href="#mt" x="261.2" y="227.2"/><use href="#mt" x="261.8" y="227.2"/><use href="#mt" x="262.3" y="227.1"/><use href="#mt" x="262.9" y="227.0"/><use href="#mt" x="263.4" y="226.9"/><use href="#mt" x="264.0" y="226.8"/><use href="#mt" x="264.5" y="226.8"/><use href="#mt" x="265.1" y="226.7"/><use href="#mt" x="265.6" y="226.6"/><use href="#mt" x="266.2" y="226.5"/><use href="#mt" x="266.7" y="226.4"/><use href="#mt" x="267.3" y="226.3"/><use href="#mt" x="267.8" y="226.2"/><use href="#mt" x="268.4" y="226.1"/><use href="#mt" x="268.9" y="226.0"/><use href="#mt" x="269.5" y="225.9"/><use href="#mt" x="270.0" y="225.8"/><use href="#mt" x="270.6" y="225.7"/><use href="#mt" x="271.1" y="225.6"/><use href="#mt" x="271.7" y="225.5"/><use href="#mt" x="272.2" y="225.4"/><use href="#mt" x="272.8" y="225.3"/><use href="#mt" x="273.3" y="225.2"/><use href="#mt" x="273.9" y="225.0"/><use href="#mt" x="274.4" y="224.9"/><use href="#mt" x="275.0" y="224.8"/><use href="#mt" x="275.5" y="224.7"/><use href="#mt" x="276.1" y="224.6"/><use href="#mt" x="276.6" y="224.4"/><use href="#mt" x="277.2" y="224.3"/><use href="#mt" x="277.7" y="224.2"/><use href="#mt" x="278.3" y="224.0"/><use href="#mt" x="278.8" y="223.9"/><use href="#mt" x="279.4" y="223.8"/><use href="#mt" x="279.9" y="223.6"/><use href="#mt" x="280.5" y="223.5"/><use href="#mt" x="281.0" y="223.3"/><use href="#mt" x="281.6" y="223.2"/><use href="#mt" x="282.1" y="223.0"/><use href="#mt" x="282.7" y="222.9"/><use href="#mt" x="283.2" y="222.7"/><use href="#mt" x="283.8" y="222.5"/><use href="#mt" x="284.3" y="222.4"/><use href="#mt" x="284.9" y="222.2"/><use href="#mt" x="285.4" y="222.0"/><use href="#mt" x="286.0" y="221.9"/><use href="#mt" x="286.5" y="221.7"/><use href="#mt" x="287.1" y="221.5"/><use href="#mt" x="287.6" y="221.3"/><use href="#mt" x="288.2" y="221.1"/><use href="#mt" x="288.7" y="220.9"/><use href="#mt" x="289.3" y="220.8"/><use href="#mt" x="289.8" y="220.6"/><use href="#mt" x="290.4" y="220.4"/><use href="#mt" x="290.9" y="220.2"/><use href="#mt" x="291.5" y="219.9"/><use href="#mt" x="292.0" y="219.7"/><use href="#mt" x="292.6" y="219.5"/><use href="#mt" x="293.1" y="219.3"/><use href="#mt" x="293.7" y="219.1"/><use href="#mt" x="294.2" y="218.9"/><use href="#mt" x="294.8" y="218.6"/><use href="#mt" x="295.3" y="218.4"/><use href="#mt" x="295.9" y="218.1"/><use href="#mt" x="296.4" y="217.9"/><use href="#mt" x="297.0" y="217.7"/><use href="#mt" x="297.5" y="217.4"/><use href="#mt" x="298.1" y="217.2"/><use href="#mt" x="298.6" y="216.9"/><use href="#mt" x="299.2" y="216.6"/><use href="#mt" x="299.7" y="216.4"/><use href="#mt" x="300.3" y="216.1"/><use href="#mt" x="300.8" y="215.8"/><use href="#mt" x="301.4" y="215.5"/><use href="#mt" x="301.9" y="215.2"/><use href="#mt" x="302.5" y="214.9"/><use href="#mt" x="303.0" y="214.6"/><use href="#mt" x="303.6" y="214.3"/><use href="#mt" x="304.1" y="214.0"/><use href="#mt" x="304.7" y="213.7"/><use href="#mt" x="305.2" y="213.4"/><use href="#mt" x="305.8" y="213.1"/><use href="#mt" x="306.3" y="212.7"/><use href="#mt" x="306.9" y="212.4"/><use href="#mt" x="307.4" y="212.0"/><use href="#mt" x="308.0" y="211.7"/><use href="#mt" x="308.5" y="211.3"/><use href="#mt" x="309.1" y="211.0"/><use href="#mt" x="309.6" y="210.6"/><use href="#mt" x="310.2" y="210.2"/><use href="#mt" x="310.7" y="209.9"/><use href="#mt" x="311.3" y="209.5"/><use href="#mt" x="311.8" y="209.1"/><use href="#mt" x="312.4" y="208.7"/><use href="#mt" x="312.9" y="208.3"/><use href="#mt" x="313.5" y="207.9"/><use href="#mt" x="314.0" y="207.5"/><use href="#mt" x="314.6" y="207.0"/><use href="#mt" x="315.1" y="206.6"/><use href="#mt" x="315.7" y="206.2"/><use href="#mt" x="316.2" y="205.7"/><use href="#mt" x="316.8" y="205.3"/><use href="#mt" x="317.3" y="204.8"/><use href="#mt" x="317.9" y="204.3"/><use href="#mt" x="318.4" y="203.8"/><use href="#mt" x="319.0" y="203.4"/><use href="#mt" x="319.5" y="202.9"/><use href="#mt" x="320.1" y="202.4"/><use href="#mt" x="320.6" y="201.8"/><use href="#mt" x="321.2" y="201.3"/><use href="#mt" x="321.7" y="200.8"/><use href="#mt" x="322.3" y="200.3"/><use href="#mt" x="322.8" y="199.7"/><use href="#mt" x="323.4" y="199.1"/><use href="#mt" x="323.9" y="198.6"/><use href="#mt" x="324.5" y="198.0"/><use href="#mt" x="325.0" y="197.4"/><use href="#mt" x="325.6" y="196.8"/><use href="#mt" x="326.1" y="196.2"/><use href="#mt" x="326.7" y="195.5"/><use href="#mt" x="327.2" y="194.9"/><use href="#mt" x="327.8" y="194.2"/><use href="#mt" x="328.3" y="193.6"/><use href="#mt" x="328.9" y="192.9"/><use href="#mt" x="329.4" y="192.2"/><use href="#mt" x="330.0" y="191.5"/><use href="#mt" x="330.5" y="190.7"/><use href="#mt" x="331.1" y="190.0"/><use href="#mt" x="331.6" y="189.2"/><use href="#mt" x="332.2" y="188.5"/><use href="#mt" x="332.7" y="187.7"/><use href="#mt" x="333.3" y="186.9"/><use href="#mt" x="333.8" y="186.0"/><use href="#mt" x="334.4" y="185.2"/><use href="#mt" x="334.9" y="184.3"/><use href="#mt" x="335.5" y="183.5"/><use href="#mt" x="336.0" y="182.6"/><use href="#mt" x="336.6" y="181.6"/><use href="#mt" x="337.1" y="180.7"/><use href="#mt" x="337.7" y="179.7"/><use href="#mt" x="338.2" y="178.8"/><use href="#mt" x="338.8" y="177.7"/><use href="#mt" x="339.3" y="176.7"/><use href="#mt" x="339.9" y="175.6"/><use href="#mt" x="340.4" y="174.5"/><use href="#mt" x="341.0" y="173.4"/><use href="#mt" x="341.5" y="172.3"/><use href="#mt" x="342.1" y="171.1"/><use href="#mt" x="342.6" y="169.9"/><use href="#mt" x="343.2" y="168.6"/><use href="#mt" x="343.7" y="167.3"/><use href="#mt" x="344.3" y="166.0"/><use href="#mt" x="344.8" y="164.6"/><use href="#mt" x="345.4" y="163.2"/><use href="#mt" x="345.9" y="161.7"/><use href="#mt" x="346.5" y="160.2"/><use href="#mt" x="347.0" y="158.6"/><use href="#mt" x="347.6" y="157.0"/><use href="#mt" x="348.1" y="155.3"/><use href="#mt" x="348.7" y="153.5"/><use href="#mt" x="349.2" y="151.6"/><use href="#mt" x="349.8" y="149.7"/><use href="#mt" x="350.3" y="147.7"/><use href="#mt" x="350.9" y="145.6"/><use href="#mt" x="351.4" y="143.5"/><use href="#mt" x="352.0" y="141.2"/><use href="#mt" x="352.5" y="138.8"/><use href="#mt" x="353.1" y="136.3"/><use href="#mt" x="353.6" y="133.7"/><use href="#mt" x="354.2" y="130.9"/><use href="#mt" x="354.7" y="128.0"/><use href="#mt" x="355.3" y="125.0"/><use href="#mt" x="355.8" y="121.9"/><use href="#mt" x="356.4" y="118.6"/><use href="#mt" x="356.9" y="115.2"/><use href="#mt" x="357.5" y="111.7"/><use href="#mt" x="358.0" y="108.2"/><use href="#mt" x="358.6" y="104.6"/><use href="#mt" x="359.1" y="101.0"/><use href="#mt" x="359.7" y="97.4"/><use href="#mt" x="360.2" y="93.9"/><use href="#mt" x="360.8" y="90.3"/><use href="#mt" x="361.3" y="86.8"/><use href="#mt" x="361.9" y="83.3"/><use href="#mt" x="362.4" y="79.8"/><use href="#mt" x="363.0" y="76.2"/><use href="#mt" x="363.5" y="72.6"/><use href="#mt" x="364.1" y="69.0"/><use href="#mt" x="364.6" y="65.2"/><use href="#mt" x="365.2" y="61.4"/><use href="#mt" x="365.7" y="57.5"/><use href="#mt" x="366.3" y="53.4"/><use href="#mt" x="366.8" y="49.2"/><use href="#mt" x="367.4" y="44.7"/><use href="#mt" x="367.9" y="39.9"/><use href="#mt" x="368.5" y="34.6"/><use href="#mt" x="369.1" y="28.7"/><use href="#mt" x="369.6" y="21.6"/></g>
<g><use href="#md" x="58.7" y="234.8"/><use href="#md" x="59.3" y="234.7"/><use href="#md" x="59.8" y="234.7"/><use href="#md" x="60.4" y="234.6"/><use href="#md" x="60.9" y="234.6"/><use href="#md" x="61.5" y="234.6"/><use href="#md" x="62.0" y="234.5"/><use href="#md" x="62.6" y="234.5"/><use href="#md" x="63.1" y="234.4"/><use href="#md" x="63.7" y="234.4"/><use href="#md" x="64.2" y="234.4"/><use href="#md" x="64.8" y="234.3"/><use href="#md" x="65.3" y="234.3"/><use href="#md" x="65.9" y="234.3"/><use href="#md" x="66.4" y="234.2"/><use href="#md" x="67.0" y="234.2"/><use href="#md" x="67.5" y="234.1"/><use href="#md" x="68.1" y="234.1"/><use href="#md" x="68.6" y="234.1"/><use href="#md" x="69.2" y="234.0"/><use href="#md" x="69.7" y="234.0"/><use href="#md" x="70.3" y="234.0"/><use href="#md" x="70.8" y="233.9"/><use href="#md" x="71.4" y="233.9"/><use href="#md" x="71.9" y="233.9"/><use href="#md" x="72.5" y="233.9"/><use href="#md" x="73.0" y="233.8"/><use href="#md" x="73.6" y="233.8"/><use href="#md" x="74.1" y="233.8"/><use href="#md" x="74.7" y="233.7"/><use href="#md" x="75.2" y="233.7"/><use href="#md" x="75.8" y="233.7"/><use href="#md" x="76.3" y="233.7"/><use href="#md" x="76.9" y="233.6"/><use href="#md" x="77.4" y="233.6"/><use href="#md" x="78.0" y="233.6"/><use href="#md" x="78.5" y="233.6"/><use href="#md" x="79.1" y="233.5"/><use href="#md" x="79.6" y="233.5"/><use href="#md" x="80.2" y="233.5"/><use href="#md" x="80.7" y="233.5"/><use href="#md" x="81.3" y="233.4"/><use href="#md" x="81.8" y="233.4"/><use href="#md" x="82.4" y="233.4"/><use href="#md" x="82.9" y="233.4"/><use href="#md" x="83.5" y="233.3"/><use href="#md" x="84.0" y="233.3"/><use href="#md" x="84.6" y="233.3"/><use href="#md" x="85.1" y="233.3"/><use href="#md" x="85.7" y="233.3"/><use href="#md" x="86.2" y="233.2"/><use href="#md" x="86.8" y="233.2"/><use href="#md" x="87.3" y="233.2"/><use href="#md" x="87.9" y="233.2"/><use href="#md" x="88.4" y="233.2"/><use href="#md" x="89.0" y="233.1"/><use href="#md" x="89.5" y="233.1"/><use href="#md" x="90.1" y="233.1"/><use href="#md" x="90.6" y="233.1"/><use href="#md" x="91.2" y="233.1"/><use href="#md" x="91.7" y="233.1"/><use href="#md" x="92.3" y="233.0"/><use href="#md" x="92.8" y="233.0"/><use href="#md" x="93.4" y="233.0"/><use href="#md" x="93.9" y="233.0"/><use href="#md" x="94.5" y="233.0"/><use href="#md" x="95.0" y="233.0"/><use href="#md" x="95.6" y="232.9"/><use href="#md" x="96.1" y="232.9"/><use href="#md" x="96.7" y="232.9"/><use href="#md" x="97.2" y="232.9"/><use href="#md" x="97.8" y="232.9"/><use href="#md" x="98.3" y="232.9"/><use href="#md" x="98.9" y="232.8"/><use href="#md" x="99.4" y="232.8"/><use href="#md" x="100.0" y="232.8"/><use href="#md" x="100.5" y="232.8"/><use href="#md" x="101.1" y="232.8"/><use href="#md" x="101.6" y="232.8"/><use href="#md" x="102.2" y="232.8"/><use href="#md" x="102.7" y="232.7"/><use href="#md" x="103.3" y="232.7"/><use href="#md" x="103.8" y="232.7"/><use href="#md" x="104.4" y="232.7"/><use href="#md" x="104.9" y="232.7"/><use href="#md" x="105.5" y="232.7"/><use href="#md" x="106.0" y="232.7"/><use href="#md" x="106.6" y="232.7"/><use href="#md" x="107.1" y="232.6"/><use href="#md" x="107.7" y="232.6"/><use href="#md" x="108.2" y="232.6"/><use href="#md" x="108.8" y="232.6"/><use href="#md" x="109.3" y="232.6"/><use href="#md" x="109.9" y="232.6"/><use href="#md" x="110.4" y="232.6"/><use href="#md" x="111.0" y="232.5"/><use href="#md" x="111.5" y="232.5"/><use href="#md" x="112.1" y="232.5"/><use href="#md" x="112.6" y="232.5"/><use href="#md" x="113.2" y="232.5"/><use href="#md" x="113.7" y="232.5"/><use href="#md" x="114.3" y="232.5"/><use href="#md" x="114.8" y="232.5"/><use href="#md" x="115.4" y="232.4"/><use href="#md" x="115.9" y="232.4"/><use href="#md" x="116.5" y="232.4"/><use href="#md" x="117.0" y="232.4"/><use href="#md" x="117.6" y="232.4"/><use href="#md" x="118.1" y="232.4"/><use href="#md" x="118.7" y="232.4"/><use href="#md" x="119.2" y="232.3"/><use href="#md" x="119.8" y="232.3"/><use href="#md" x="120.3" y="232.3"/><use href="#md" x="120.9" y="232.3"/><use href="#md" x="121.4" y="232.3"/><use href="#md" x="122.0" y="232.3"/><use href="#md" x="122.5" y="232.3"/><use href="#md" x="123.1" y="232.3"/><use href="#md" x="123.6" y="232.2"/><use href="#md" x="124.2" y="232.2"/><use href="#md" x="124.7" y="232.2"/><use href="#md" x="125.3" y="232.2"/><use href="#md" x="125.8" y="232.2"/><use href="#md" x="126.4" y="232.2"/><use href="#md" x="126.9" y="232.1"/><use href="#md" x="127.5" y="232.1"/><use href="#md" x="128.0" y="232.1"/><use href="#md" x="128.6" y="232.1"/><use href="#md" x="129.1" y="232.1"/><use href="#md" x="129.7" y="232.1"/><use href="#md" x="130.2" y="232.1"/><use href="#md" x="130.8" y="232.0"/><use href="#md" x="131.3" y="232.0"/><use href="#md" x="131.9" y="232.0"/><use href="#md" x="132.4" y="232.0"/><use href="#md" x="133.0" y="232.0"/><use href="#md" x="133.5" y="232.0"/><use href="#md" x="134.1" y="231.9"/><use href="#md" x="134.6" y="231.9"/><use href="#md" x="135.2" y="231.9"/><use href="#md" x="135.7" y="231.9"/><use href="#md" x="136.3" y="231.9"/><use href="#md" x="136.8" y="231.8"/><use href="#md" x="137.4" y="231.8"/><use href="#md" x="137.9" y="231.8"/><use href="#md" x="138.5" y="231.8"/><use href="#md" x="139.0" y="231.8"/><use href="#md" x="139.6" y="231.7"/><use href="#md" x="140.1" y="231.7"/><use href="#md" x="140.7" y="231.7"/><use href="#md" x="141.2" y="231.7"/><use href="#md" x="141.8" y="231.7"/><use href="#md" x="142.3" y="231.6"/><use href="#md" x="142.9" y="231.6"/><use href="#md" x="143.4" y="231.6"/><use href="#md" x="144.0" y="231.6"/><use href="#md" x="144.5" y="231.5"/><use href="#md" x="145.1" y="231.5"/><use href="#md" x="145.6" y="231.5"/><use href="#md" x="146.2" y="231.5"/><use href="#md" x="146.7" y="231.4"/><use href="#md" x="147.3" y="231.4"/><use href="#md" x="147.8" y="231.4"/><use href="#md" x="148.4" y="231.4"/><use href="#md" x="148.9" y="231.3"/><use href="#md" x="149.5" y="231.3"/><use href="#md" x="150.0" y="231.3"/><use href="#md" x="150.6" y="231.3"/><use href="#md" x="151.1" y="231.2"/><use href="#md" x="151.7" y="231.2"/><use href="#md" x="152.2" y="231.2"/><use href="#md" x="152.8" y="231.1"/><use href="#md" x="153.3" y="231.1"/><use href="#md" x="153.9" y="231.1"/><use href="#md" x="154.4" y="231.1"/><use href="#md" x="155.0" y="231.0"/><use href="#md" x="155.5" y="231.0"/><use href="#md" x="156.1" y="231.0"/><use href="#md" x="156.6" y="230.9"/><use href="#md" x="157.2" y="230.9"/><use href="#md" x="157.7" y="230.9"/><use href="#md" x="158.3" y="230.8"/><use href="#md" x="158.8" y="230.8"/><use href="#md" x="159.4" y="230.8"/><use href="#md" x="159.9" y="230.7"/><use href="#md" x="160.5" y="230.7"/><use href="#md" x="161.0" y="230.7"/><use href="#md" x="161.6" y="230.6"/><use href="#md" x="162.1" y="230.6"/><use href="#md" x="162.7" y="230.5"/><use href="#md" x="163.2" y="230.5"/><use href="#md" x="163.8" y="230.5"/><use href="#md" x="164.3" y="230.4"/><use href="#md" x="164.9" y="230.4"/><use href="#md" x="165.4" y="230.3"/><use href="#md" x="166.0" y="230.3"/><use href="#md" x="166.5" y="230.3"/><use href="#md" x="167.1" y="230.2"/><use href="#md" x="167.6" y="230.2"/><use href="#md" x="168.2" y="230.1"/><use href="#md" x="168.7" y="230.1"/><use href="#md" x="169.3" y="230.0"/><use href="#md" x="169.8" y="230.0"/><use href="#md" x="170.4" y="229.9"/><use href="#md" x="170.9" y="229.9"/><use href="#md" x="171.5" y="229.8"/><use href="#md" x="172.0" y="229.8"/><use href="#md" x="172.6" y="229.7"/><use href="#md" x="173.1" y="229.7"/><use href="#md" x="173.7" y="229.6"/><use href="#md" x="174.2" y="229.6"/><use href="#md" x="174.8" y="229.5"/><use href="#md" x="175.3" y="229.5"/><use href="#md" x="175.9" y="229.4"/><use href="#md" x="176.4" y="229.4"/><use href="#md" x="177.0" y="229.3"/><use href="#md" x="177.5" y="229.3"/><use href="#md" x="178.1" y="229.2"/><use href="#md" x="178.6" y="229.1"/><use href="#md" x="179.2" y="229.1"/><use href="#md" x="179.7" y="229.0"/><use href="#md" x="180.3" y="229.0"/><use href="#md" x="180.8" y="228.9"/><use href="#md" x="181.4" y="228.8"/><use href="#md" x="181.9" y="228.8"/><use href="#md" x="182.5" y="228.7"/><use href="#md" x="183.0" y="228.7"/><use href="#md" x="183.6" y="228.6"/><use href="#md" x="184.1" y="228.5"/><use href="#md" x="184.7" y="228.5"/><use href="#md" x="185.2" y="228.4"/><use href="#md" x="185.8" y="228.3"/><use href="#md" x="186.3" y="228.3"/><use href="#md" x="186.9" y="228.2"/><use href="#md" x="187.4" y="228.1"/><use href="#md" x="188.0" y="228.0"/><use href="#md" x="188.5" y="228.0"/><use href="#md" x="189.1" y="227.9"/><use href="#md" x="189.6" y="227.8"/><use href="#md" x="190.2" y="227.8"/><use href="#md" x="190.7" y="227.7"/><use href="#md" x="191.3" y="227.6"/><use href="#md" x="191.8" y="227.5"/><use href="#md" x="192.4" y="227.4"/><use href="#md" x="192.9" y="227.4"/><use href="#md" x="193.5" y="227.3"/><use href="#md" x="194.0" y="227.2"/><use href="#md" x="194.6" y="227.1"/><use href="#md" x="195.1" y="227.0"/><use href="#md" x="195.7" y="226.9"/><use href="#md" x="196.2" y="226.9"/><use href="#md" x="196.8" y="226.8"/><use href="#md" x="197.3" y="226.7"/><use href="#md" x="197.9" y="226.6"/><use href="#md" x="198.4" y="226.5"/><use href="#md" x="199.0" y="226.4"/><use href="#md" x="199.5" y="226.3"/><use href="#md" x="200.1" y="226.2"/><use href="#md" x="200.6" y="226.1"/><use href="#md" x="201.2" y="226.0"/><use href="#md" x="201.7" y="225.9"/><use href="#md" x="202.3" y="225.8"/><use href="#md" x="202.8" y="225.8"/><use href="#md" x="203.4" y="225.7"/><use href="#md" x="203.9" y="225.6"/><use href="#md" x="204.5" y="225.4"/><use href="#md" x="205.0" y="225.3"/><use href="#md" x="205.6" y="225.2"/><use href="#md" x="206.1" y="225.1"/><use href="#md" x="206.7" y="225.0"/><use href="#md" x="207.2" y="224.9"/><use href="#md" x="207.8" y="224.8"/><use href="#md" x="208.3" y="224.7"/><use href="#md" x="208.9" y="224.6"/><use href="#md" x="209.4" y="224.5"/><use href="#md" x="210.0" y="224.4"/><use href="#md" x="210.5" y="224.3"/><use href="#md" x="211.1" y="224.1"/><use href="#md" x="211.6" y="224.0"/><use href="#md" x="212.2" y="223.9"/><use href="#md" x="212.7" y="223.8"/><use href="#md" x="213.3" y="223.7"/><use href="#md" x="213.8" y="223.5"/><use href="#md" x="214.4" y="223.4"/><use href="#md" x="214.9" y="223.3"/><use href="#md" x="215.5" y="223.2"/><use href="#md" x="216.0" y="223.0"/><use href="#md" x="216.6" y="222.9"/><use href="#md" x="217.1" y="222.8"/><use href="#md" x="217.7" y="222.6"/><use href="#md" x="218.2" y="222.5"/><use href="#md" x="218.8" y="222.4"/><use href="#md" x="219.3" y="222.2"/><use href="#md" x="219.9" y="222.1"/><use href="#md" x="220.4" y="222.0"/><use href="#md" x="221.0" y="221.8"/><use href="#md" x="221.5" y="221.7"/><use href="#md" x="222.1" y="221.5"/><use href="#md" x="222.6" y="221.4"/><use href="#md" x="223.2" y="221.2"/><use href="#md" x="223.7" y="221.1"/><use href="#md" x="224.3" y="221.0"/><use href="#md" x="224.8" y="220.8"/><use href="#md" x="225.4" y="220.6"/><use href="#md" x="225.9" y="220.5"/><use href="#md" x="226.5" y="220.3"/><use href="#md" x="227.0" y="220.2"/><use href="#md" x="227.6" y="220.0"/><use href="#md" x="228.1" y="219.9"/><use href="#md" x="228.7" y="219.7"/><use href="#md" x="229.2" y="219.5"/><use href="#md" x="229.8" y="219.4"/><use href="#md" x="230.3" y="219.2"/><use href="#md" x="230.9" y="219.0"/><use href="#md" x="231.4" y="218.9"/><use href="#md" x="232.0" y="218.7"/><use href="#md" x="232.5" y="218.5"/><use href="#md" x="233.1" y="218.4"/><use href="#md" x="233.6" y="218.2"/><use href="#md" x="234.2" y="218.0"/><use href="#md" x="234.7" y="217.8"/><use href="#md" x="235.3" y="217.6"/><use href="#md" x="235.8" y="217.5"/><use href="#md" x="236.4" y="217.3"/><use href="#md" x="236.9" y="217.1"/><use href="#md" x="237.5" y="216.9"/><use href="#md" x="238.0" y="216.7"/><use href="#md" x="238.6" y="216.5"/><use href="#md" x="239.1" y="216.3"/><use href="#md" x="239.7" y="216.1"/><use href="#md" x="240.2" y="215.9"/><use href="#md" x="240.8" y="215.7"/><use href="#md" x="241.3" y="215.5"/><use href="#md" x="241.9" y="215.3"/><use href="#md" x="242.4" y="215.1"/><use href="#md" x="243.0" y="214.9"/><use href="#md" x="243.5" y="214.7"/><use href="#md" x="244.1" y="214.5"/><use href="#md" x="244.6" y="214.3"/><use href="#md" x="245.2" y="214.1"/><use href="#md" x="245.7" y="213.8"/><use href="#md" x="246.3" y="213.6"/><use href="#md" x="246.8" y="213.4"/><use href="#md" x="247.4" y="213.2"/><use href="#md" x="247.9" y="213.0"/><use href="#md" x="248.5" y="212.7"/><use href="#md" x="249.0" y="212.5"/><use href="#md" x="249.6" y="212.3"/><use href="#md" x="250.1" y="212.0"/><use href="#md" x="250.7" y="211.8"/><use href="#md" x="251.2" y="211.6"/><use href="#md" x="251.8" y="211.3"/><use href="#md" x="252.3" y="211.1"/><use href="#md" x="252.9" y="210.8"/><use href="#md" x="253.4" y="210.6"/><use href="#md" x="254.0" y="210.3"/><use href="#md" x="254.5" y="210.1"/><use href="#md" x="255.1" y="209.8"/><use href="#md" x="255.6" y="209.6"/><use href="#md" x="256.2" y="209.3"/><use href="#md" x="256.7" y="209.1"/><use href="#md" x="257.3" y="208.8"/><use href="#md" x="257.8" y="208.5"/><use href="#md" x="258.4" y="208.3"/><use href="#md" x="258.9" y="208.0"/><use href="#md" x="259.5" y="207.7"/><use href="#md" x="260.0" y="207.5"/><use href="#md" x="260.6" y="207.2"/><use href="#md" x="261.1" y="206.9"/><use href="#md" x="261.7" y="206.6"/><use href="#md" x="262.2" y="206.3"/><use href="#md" x="262.8" y="206.0"/><use href="#md" x="263.3" y="205.8"/><use href="#md" x="263.9" y="205.5"/><use href="#md" x="264.4" y="205.2"/><use href="#md" x="265.0" y="204.9"/><use href="#md" x="265.5" y="204.6"/><use href="#md" x="266.1" y="204.2"/><use href="#md" x="266.6" y="203.9"/><use href="#md" x="267.2" y="203.6"/><use href="#md" x="267.7" y="203.3"/><use href="#md" x="268.3" y="203.0"/><use href="#md" x="268.8" y="202.6"/><use href="#md" x="269.4" y="202.3"/><use href="#md" x="269.9" y="202.0"/><use href="#md" x="270.5" y="201.6"/><use href="#md" x="271.0" y="201.3"/><use href="#md" x="271.6" y="200.9"/><use href="#md" x="272.1" y="200.6"/><use href="#md" x="272.7" y="200.2"/><use href="#md" x="273.2" y="199.8"/><use href="#md" x="273.8" y="199.4"/><use href="#md" x="274.3" y="199.0"/><use href="#md" x="274.9" y="198.6"/><use href="#md" x="275.4" y="198.2"/><use href="#md" x="276.0" y="197.8"/><use href="#md" x="276.5" y="197.4"/><use href="#md" x="277.1" y="197.0"/><use href="#md" x="277.6" y="196.5"/><use href="#md" x="278.2" y="196.1"/><use href="#md" x="278.7" y="195.6"/><use href="#md" x="279.3" y="195.2"/><use href="#md" x="279.8" y="194.7"/><use href="#md" x="280.4" y="194.2"/><use href="#md" x="280.9" y="193.7"/><use href="#md" x="281.5" y="193.1"/><use href="#md" x="282.0" y="192.6"/><use href="#md" x="282.6" y="192.1"/><use href="#md" x="283.1" y="191.5"/><use href="#md" x="283.7" y="190.9"/><use href="#md" x="284.2" y="190.3"/><use href="#md" x="284.8" y="189.7"/><use href="#md" x="285.3" y="189.1"/><use href="#md" x="285.9" y="188.4"/><use href="#md" x="286.4" y="187.8"/><use href="#md" x="287.0" y="187.1"/><use href="#md" x="287.5" y="186.4"/><use href="#md" x="288.1" y="185.7"/><use href="#md" x="288.6" y="185.0"/><use href="#md" x="289.2" y="184.2"/><use href="#md" x="289.7" y="183.4"/><use href="#md" x="290.3" y="182.6"/><use href="#md" x="290.8" y="181.8"/><use href="#md" x="291.4" y="181.0"/><use href="#md" x="291.9" y="180.1"/><use href="#md" x="292.5" y="179.3"/><use href="#md" x="293.0" y="178.3"/><use href="#md" x="293.6" y="177.4"/><use href="#md" x="294.1" y="176.5"/><use href="#md" x="294.7" y="175.5"/><use href="#md" x="295.2" y="174.5"/><use href="#md" x="295.8" y="173.5"/><use href="#md" x="296.3" y="172.4"/><use href="#md" x="296.9" y="171.4"/><use href="#md" x="297.4" y="170.3"/><use href="#md" x="298.0" y="169.1"/><use href="#md" x="298.5" y="168.0"/><use href="#md" x="299.1" y="166.8"/><use href="#md" x="299.6" y="165.6"/><use href="#md" x="300.2" y="164.4"/><use href="#md" x="300.7" y="163.1"/><use href="#md" x="301.3" y="161.9"/><use href="#md" x="301.8" y="160.6"/><use href="#md" x="302.4" y="159.2"/><use href="#md" x="302.9" y="157.9"/><use href="#md" x="303.5" y="156.5"/><use href="#md" x="304.0" y="155.1"/><use href="#md" x="304.6" y="153.7"/><use href="#md" x="305.1" y="152.3"/><use href="#md" x="305.7" y="150.8"/><use href="#md" x="306.2" y="149.3"/><use href="#md" x="306.8" y="147.7"/><use href="#md" x="307.3" y="146.2"/><use href="#md" x="307.9" y="144.6"/><use href="#md" x="308.4" y="142.9"/><use href="#md" x="309.0" y="141.3"/><use href="#md" x="309.5" y="139.6"/><use href="#md" x="310.1" y="137.8"/><use href="#md" x="310.6" y="136.1"/><use href="#md" x="311.2" y="134.2"/><use href="#md" x="311.7" y="132.4"/><use href="#md" x="312.3" y="130.5"/><use href="#md" x="312.8" y="128.5"/><use href="#md" x="313.4" y="126.5"/><use href="#md" x="313.9" y="124.4"/><use href="#md" x="314.5" y="122.3"/><use href="#md" x="315.0" y="120.2"/><use href="#md" x="315.6" y="117.9"/><use href="#md" x="316.1" y="115.6"/><use href="#md" x="316.7" y="113.3"/><use href="#md" x="317.2" y="110.9"/><use href="#md" x="317.8" y="108.4"/><use href="#md" x="318.3" y="105.8"/><use href="#md" x="318.9" y="103.2"/><use href="#md" x="319.4" y="100.4"/><use href="#md" x="320.0" y="97.7"/><use href="#md" x="320.5" y="94.8"/><use href="#md" x="321.1" y="91.8"/><use href="#md" x="321.6" y="88.8"/><use href="#md" x="322.2" y="85.6"/><use href="#md" x="322.7" y="82.4"/><use href="#md" x="323.3" y="79.1"/><use href="#md" x="323.8" y="75.7"/><use href="#md" x="324.4" y="72.2"/><use href="#md" x="324.9" y="68.7"/><use href="#md" x="325.5" y="65.1"/><use href="#md" x="326.0" y="61.4"/><use href="#md" x="326.6" y="57.7"/><use href="#md" x="327.1" y="54.0"/><use href="#md" x="327.7" y="50.3"/><use href="#md" x="328.2" y="46.5"/><use href="#md" x="328.8" y="42.8"/><use href="#md" x="329.3" y="39.1"/><use href="#md" x="329.9" y="35.4"/><use href="#md" x="330.4" y="31.8"/><use href="#md" x="331.0" y="28.2"/><use href="#md" x="331.6" y="24.8"/><use href="#md" x="332.1" y="21.4"/></g>
<g><use href="#mq" x="58.6" y="234.5"/><use href="#mq" x="59.1" y="234.5"/><use href="#mq" x="59.7" y="234.4"/><use href="#mq" x="60.2" y="234.4"/><use href="#mq" x="60.8" y="234.4"/><use href="#mq" x="61.3" y="234.3"/><use href="#mq" x="61.9" y="234.3"/><use href="#mq" x="62.4" y="234.3"/><use href="#mq" x="63.0" y="234.3"/><use href="#mq" x="63.5" y="234.2"/><use href="#mq" x="64.1" y="234.2"/><use href="#mq" x="64.6" y="234.2"/><use href="#mq" x="65.2" y="234.2"/><use href="#mq" x="65.7" y="234.1"/><use href="#mq" x="66.3" y="234.1"/><use href="#mq" x="66.8" y="234.1"/><use href="#mq" x="67.4" y="234.0"/><use href="#mq" x="67.9" y="234.0"/><use href="#mq" x="68.5" y="234.0"/><use href="#mq" x="69.0" y="234.0"/><use href="#mq" x="69.6" y="233.9"/><use href="#mq" x="70.1" y="233.9"/><use href="#mq" x="70.7" y="233.9"/><use href="#mq" x="71.2" y="233.9"/><use href="#mq" x="71.8" y="233.8"/><use href="#mq" x="72.3" y="233.8"/><use href="#mq" x="72.9" y="233.8"/><use href="#mq" x="73.4" y="233.8"/><use href="#mq" x="74.0" y="233.7"/><use href="#mq" x="74.5" y="233.7"/><use href="#mq" x="75.1" y="233.7"/><use href="#mq" x="75.6" y="233.7"/><use href="#mq" x="76.2" y="233.6"/><use href="#mq" x="76.7" y="233.6"/><use href="#mq" x="77.3" y="233.6"/><use href="#mq" x="77.8" y="233.6"/><use href="#mq" x="78.4" y="233.6"/><use href="#mq" x="78.9" y="233.5"/><use href="#mq" x="79.5" y="233.5"/><use href="#mq" x="80.0" y="233.5"/><use href="#mq" x="80.6" y="233.5"/><use href="#mq" x="81.1" y="233.4"/><use href="#mq" x="81.7" y="233.4"/><use href="#mq" x="82.2" y="233.4"/><use href="#mq" x="82.8" y="233.4"/><use href="#mq" x="83.3" y="233.3"/><use href="#mq" x="83.9" y="233.3"/><use href="#mq" x="84.4" y="233.3"/><use href="#mq" x="85.0" y="233.3"/><use href="#mq" x="85.5" y="233.2"/><use href="#mq" x="86.1" y="233.2"/><use href="#mq" x="86.6" y="233.2"/><use href="#mq" x="87.2" y="233.2"/><use href="#mq" x="87.7" y="233.1"/><use href="#mq" x="88.3" y="233.1"/><use href="#mq" x="88.8" y="233.1"/><use href="#mq" x="89.4" y="233.1"/><use href="#mq" x="89.9" y="233.1"/><use href="#mq" x="90.5" y="233.0"/><use href="#mq" x="91.0" y="233.0"/><use href="#mq" x="91.6" y="233.0"/><use href="#mq" x="92.1" y="233.0"/><use href="#mq" x="92.7" y="232.9"/><use href="#mq" x="93.2" y="232.9"/><use href="#mq" x="93.8" y="232.9"/><use href="#mq" x="94.3" y="232.9"/><use href="#mq" x="94.9" y="232.8"/><use href="#mq" x="95.4" y="232.8"/><use href="#mq" x="96.0" y="232.8"/><use href="#mq" x="96.5" y="232.8"/><use href="#mq" x="97.1" y="232.7"/><use href="#mq" x="97.6" y="232.7"/><use href="#mq" x="98.2" y="232.7"/><use href="#mq" x="98.7" y="232.7"/><use href="#mq" x="99.3" y="232.6"/><use href="#mq" x="99.8" y="232.6"/><use href="#mq" x="100.4" y="232.6"/><use href="#mq" x="100.9" y="232.5"/><use href="#mq" x="101.5" y="232.5"/><use href="#mq" x="102.0" y="232.5"/><use href="#mq" x="102.6" y="232.5"/><use href="#mq" x="103.1" y="232.4"/><use href="#mq" x="103.7" y="232.4"/><use href="#mq" x="104.2" y="232.4"/><use href="#mq" x="104.8" y="232.4"/><use href="#mq" x="105.3" y="232.3"/><use href="#mq" x="105.9" y="232.3"/><use href="#mq" x="106.4" y="232.3"/><use href="#mq" x="107.0" y="232.2"/><use href="#mq" x="107.5" y="232.2"/><use href="#mq" x="108.1" y="232.2"/><use href="#mq" x="108.6" y="232.2"/><use href="#mq" x="109.2" y="232.1"/><use href="#mq" x="109.7" y="232.1"/><use href="#mq" x="110.3" y="232.1"/><use href="#mq" x="110.8" y="232.0"/><use href="#mq" x="111.4" y="232.0"/><use href="#mq" x="111.9" y="232.0"/><use href="#mq" x="112.5" y="231.9"/><use href="#mq" x="113.0" y="231.9"/><use href="#mq" x="113.6" y="231.9"/><use href="#mq" x="114.1" y="231.8"/><use href="#mq" x="114.7" y="231.8"/><use href="#mq" x="115.2" y="231.8"/><use href="#mq" x="115.8" y="231.7"/><use href="#mq" x="116.3" y="231.7"/><use href="#mq" x="116.9" y="231.7"/><use href="#mq" x="117.4" y="231.6"/><use href="#mq" x="118.0" y="231.6"/><use href="#mq" x="118.5" y="231.6"/><use href="#mq" x="119.1" y="231.5"/><use href="#mq" x="119.6" y="231.5"/><use href="#mq" x="120.2" y="231.5"/><use href="#mq" x="120.7" y="231.4"/><use href="#mq" x="121.3" y="231.4"/><use href="#mq" x="121.8" y="231.4"/><use href="#mq" x="122.4" y="231.3"/><use href="#mq" x="122.9" y="231.3"/><use href="#mq" x="123.5" y="231.2"/><use href="#mq" x="124.0" y="231.2"/><use href="#mq" x="124.6" y="231.2"/><use href="#mq" x="125.1" y="231.1"/><use href="#mq" x="125.7" y="231.1"/><use href="#mq" x="126.2" y="231.0"/><use href="#mq" x="126.8" y="231.0"/><use href="#mq" x="127.3" y="231.0"/><use href="#mq" x="127.9" y="230.9"/><use href="#mq" x="128.4" y="230.9"/><use href="#mq" x="129.0" y="230.8"/><use href="#mq" x="129.5" y="230.8"/><use href="#mq" x="130.1" y="230.7"/><use href="#mq" x="130.6" y="230.7"/><use href="#mq" x="131.2" y="230.7"/><use href="#mq" x="131.7" y="230.6"/><use href="#mq" x="132.3" y="230.6"/><use href="#mq" x="132.8" y="230.5"/><use href="#mq" x="133.4" y="230.5"/><use href="#mq" x="133.9" y="230.4"/><use href="#mq" x="134.5" y="230.4"/><use href="#mq" x="135.0" y="230.3"/><use href="#mq" x="135.6" y="230.3"/><use href="#mq" x="136.1" y="230.2"/><use href="#mq" x="136.7" y="230.2"/><use href="#mq" x="137.2" y="230.1"/><use href="#mq" x="137.8" y="230.1"/><use href="#mq" x="138.3" y="230.0"/><use href="#mq" x="138.9" y="230.0"/><use href="#mq" x="139.4" y="229.9"/><use href="#mq" x="140.0" y="229.9"/><use href="#mq" x="140.5" y="229.8"/><use href="#mq" x="141.1" y="229.8"/><use href="#mq" x="141.6" y="229.7"/><use href="#mq" x="142.2" y="229.7"/><use href="#mq" x="142.7" y="229.6"/><use href="#mq" x="143.3" y="229.5"/><use href="#mq" x="143.8" y="229.5"/><use href="#mq" x="144.4" y="229.4"/><use href="#mq" x="144.9" y="229.4"/><use href="#mq" x="145.5" y="229.3"/><use href="#mq" x="146.0" y="229.3"/><use href="#mq" x="146.6" y="229.2"/><use href="#mq" x="147.1" y="229.1"/><use href="#mq" x="147.7" y="229.1"/><use href="#mq" x="148.2" y="229.0"/><use href="#mq" x="148.8" y="228.9"/><use href="#mq" x="149.3" y="228.9"/><use href="#mq" x="149.9" y="228.8"/><use href="#mq" x="150.4" y="228.7"/><use href="#mq" x="151.0" y="228.7"/><use href="#mq" x="151.5" y="228.6"/><use href="#mq" x="152.1" y="228.5"/><use href="#mq" x="152.6" y="228.5"/><use href="#mq" x="153.2" y="228.4"/><use href="#mq" x="153.7" y="228.3"/><use href="#mq" x="154.3" y="228.3"/><use href="#mq" x="154.8" y="228.2"/><use href="#mq" x="155.4" y="228.1"/><use href="#mq" x="155.9" y="228.1"/><use href="#mq" x="156.5" y="228.0"/><use href="#mq" x="157.0" y="227.9"/><use href="#mq" x="157.6" y="227.8"/><use href="#mq" x="158.1" y="227.8"/><use href="#mq" x="158.7" y="227.7"/><use href="#mq" x="159.2" y="227.6"/><use href="#mq" x="159.8" y="227.5"/><use href="#mq" x="160.3" y="227.4"/><use href="#mq" x="160.9" y="227.4"/><use href="#mq" x="161.4" y="227.3"/><use href="#mq" x="162.0" y="227.2"/><use href="#mq" x="162.5" y="227.1"/><use href="#mq" x="163.1" y="227.0"/><use href="#mq" x="163.6" y="227.0"/><use href="#mq" x="164.2" y="226.9"/><use href="#mq" x="164.7" y="226.8"/><use href="#mq" x="165.3" y="226.7"/><use href="#mq" x="165.8" y="226.6"/><use href="#mq" x="166.4" y="226.5"/><use href="#mq" x="166.9" y="226.4"/><use href="#mq" x="167.5" y="226.3"/><use href="#mq" x="168.0" y="226.3"/><use href="#mq" x="168.6" y="226.2"/><use href="#mq" x="169.1" y="226.1"/><use href="#mq" x="169.7" y="226.0"/><use href="#mq" x="170.2" y="225.9"/><use href="#mq" x="170.8" y="225.8"/><use href="#mq" x="171.3" y="225.7"/><use href="#mq" x="171.9" y="225.6"/><use href="#mq" x="172.4" y="225.5"/><use href="#mq" x="173.0" y="225.4"/><use href="#mq" x="173.5" y="225.3"/><use href="#mq" x="174.1" y="225.2"/><use href="#mq" x="174.6" y="225.1"/><use href="#mq" x="175.2" y="225.0"/><use href="#mq" x="175.7" y="224.9"/><use href="#mq" x="176.3" y="224.8"/><use href="#mq" x="176.8" y="224.7"/><use href="#mq" x="177.4" y="224.6"/><use href="#mq" x="177.9" y="224.4"/><use href="#mq" x="178.5" y="224.3"/><use href="#mq" x="179.0" y="224.2"/><use href="#mq" x="179.6" y="224.1"/><use href="#mq" x="180.1" y="224.0"/><use href="#mq" x="180.7" y="223.9"/><use href="#mq" x="181.2" y="223.8"/><use href="#mq" x="181.8" y="223.7"/><use href="#mq" x="182.3" y="223.5"/><use href="#mq" x="182.9" y="223.4"/><use href="#mq" x="183.4" y="223.3"/><use href="#mq" x="184.0" y="223.2"/><use href="#mq" x="184.5" y="223.1"/><use href="#mq" x="185.1" y="222.9"/><use href="#mq" x="185.6" y="222.8"/><use href="#mq" x="186.2" y="222.7"/><use href="#mq" x="186.7" y="222.6"/><use href="#mq" x="187.3" y="222.4"/><use href="#mq" x="187.8" y="222.3"/><use href="#mq" x="188.4" y="222.2"/><use href="#mq" x="188.9" y="222.0"/><use href="#mq" x="189.5" y="221.9"/><use href="#mq" x="190.0" y="221.8"/><use href="#mq" x="190.6" y="221.6"/><use href="#mq" x="191.1" y="221.5"/><use href="#mq" x="191.7" y="221.3"/><use href="#mq" x="192.2" y="221.2"/><use href="#mq" x="192.8" y="221.1"/><use href="#mq" x="193.3" y="220.9"/><use href="#mq" x="193.9" y="220.8"/><use href="#mq" x="194.4" y="220.6"/><use href="#mq" x="195.0" y="220.5"/><use href="#mq" x="195.5" y="220.3"/><use href="#mq" x="196.1" y="220.2"/><use href="#mq" x="196.6" y="220.0"/><use href="#mq" x="197.2" y="219.9"/><use href="#mq" x="197.7" y="219.7"/><use href="#mq" x="198.3" y="219.6"/><use href="#mq" x="198.8" y="219.4"/><use href="#mq" x="199.4" y="219.3"/><use href="#mq" x="199.9" y="219.1"/><use href="#mq" x="200.5" y="218.9"/><use href="#mq" x="201.0" y="218.8"/><use href="#mq" x="201.6" y="218.6"/><use href="#mq" x="202.1" y="218.4"/><use href="#mq" x="202.7" y="218.3"/><use href="#mq" x="203.2" y="218.1"/><use href="#mq" x="203.8" y="217.9"/><use href="#mq" x="204.3" y="217.8"/><use href="#mq" x="204.9" y="217.6"/><use href="#mq" x="205.4" y="217.4"/><use href="#mq" x="206.0" y="217.2"/><use href="#mq" x="206.5" y="217.1"/><use href="#mq" x="207.1" y="216.9"/><use href="#mq" x="207.6" y="216.7"/><use href="#mq" x="208.2" y="216.5"/><use href="#mq" x="208.7" y="216.3"/><use href="#mq" x="209.3" y="216.1"/><use href="#mq" x="209.8" y="216.0"/><use href="#mq" x="210.4" y="215.8"/><use href="#mq" x="210.9" y="215.6"/><use href="#mq" x="211.5" y="215.4"/><use href="#mq" x="212.0" y="215.2"/><use href="#mq" x="212.6" y="215.0"/><use href="#mq" x="213.1" y="214.8"/><use href="#mq" x="213.7" y="214.6"/><use href="#mq" x="214.2" y="214.4"/><use href="#mq" x="214.8" y="214.2"/><use href="#mq" x="215.3" y="214.0"/><use href="#mq" x="215.9" y="213.8"/><use href="#mq" x="216.4" y="213.5"/><use href="#mq" x="217.0" y="213.3"/><use href="#mq" x="217.5" y="213.1"/><use href="#mq" x="218.1" y="212.9"/><use href="#mq" x="218.6" y="212.7"/><use href="#mq" x="219.2" y="212.4"/><use href="#mq" x="219.7" y="212.2"/><use href="#mq" x="220.3" y="212.0"/><use href="#mq" x="220.8" y="211.7"/><use href="#mq" x="221.4" y="211.5"/><use href="#mq" x="221.9" y="211.2"/><use href="#mq" x="222.5" y="211.0"/><use href="#mq" x="223.0" y="210.7"/><use href="#mq" x="223.6" y="210.5"/><use href="#mq" x="224.1" y="210.2"/><use href="#mq" x="224.7" y="209.9"/><use href="#mq" x="225.2" y="209.7"/><use href="#mq" x="225.8" y="209.4"/><use href="#mq" x="226.3" y="209.1"/><use href="#mq" x="226.9" y="208.8"/><use href="#mq" x="227.4" y="208.5"/><use href="#mq" x="228.0" y="208.2"/><use href="#mq" x="228.5" y="207.9"/><use href="#mq" x="229.1" y="207.5"/><use href="#mq" x="229.6" y="207.2"/><use href="#mq" x="230.2" y="206.9"/><use href="#mq" x="230.7" y="206.5"/><use href="#mq" x="231.3" y="206.2"/><use href="#mq" x="231.8" y="205.8"/><use href="#mq" x="232.4" y="205.4"/><use href="#mq" x="232.9" y="205.1"/><use href="#mq" x="233.5" y="204.7"/><use href="#mq" x="234.0" y="204.3"/><use href="#mq" x="234.6" y="203.9"/><use href="#mq" x="235.1" y="203.5"/><use href="#mq" x="235.7" y="203.1"/><use href="#mq" x="236.2" y="202.7"/><use href="#mq" x="236.8" y="202.3"/><use href="#mq" x="237.3" y="201.9"/><use href="#mq" x="237.9" y="201.4"/><use href="#mq" x="238.4" y="201.0"/><use href="#mq" x="239.0" y="200.6"/><use href="#mq" x="239.5" y="200.2"/><use href="#mq" x="240.1" y="199.7"/><use href="#mq" x="240.6" y="199.3"/><use href="#mq" x="241.2" y="198.8"/><use href="#mq" x="241.7" y="198.4"/><use href="#mq" x="242.3" y="197.9"/><use href="#mq" x="242.8" y="197.5"/><use href="#mq" x="243.4" y="197.0"/><use href="#mq" x="243.9" y="196.5"/><use href="#mq" x="244.5" y="196.1"/><use href="#mq" x="245.0" y="195.6"/><use href="#mq" x="245.6" y="195.1"/><use href="#mq" x="246.1" y="194.6"/><use href="#mq" x="246.7" y="194.1"/><use href="#mq" x="247.2" y="193.6"/><use href="#mq" x="247.8" y="193.1"/><use href="#mq" x="248.3" y="192.6"/><use href="#mq" x="248.9" y="192.1"/><use href="#mq" x="249.4" y="191.6"/><use href="#mq" x="250.0" y="191.1"/><use href="#mq" x="250.5" y="190.6"/><use href="#mq" x="251.1" y="190.1"/><use href="#mq" x="251.6" y="189.5"/><use href="#mq" x="252.2" y="189.0"/><use href="#mq" x="252.7" y="188.5"/><use href="#mq" x="253.3" y="187.9"/><use href="#mq" x="253.8" y="187.4"/><use href="#mq" x="254.4" y="186.8"/><use href="#mq" x="254.9" y="186.2"/><use href="#mq" x="255.5" y="185.6"/><use href="#mq" x="256.0" y="185.1"/><use href="#mq" x="256.6" y="184.5"/><use href="#mq" x="257.1" y="183.9"/><use href="#mq" x="257.7" y="183.3"/><use href="#mq" x="258.2" y="182.7"/><use href="#mq" x="258.8" y="182.0"/><use href="#mq" x="259.3" y="181.4"/><use href="#mq" x="259.9" y="180.8"/><use href="#mq" x="260.4" y="180.1"/><use href="#mq" x="261.0" y="179.5"/><use href="#mq" x="261.5" y="178.8"/><use href="#mq" x="262.1" y="178.1"/><use href="#mq" x="262.6" y="177.4"/><use href="#mq" x="263.2" y="176.7"/><use href="#mq" x="263.7" y="176.0"/><use href="#mq" x="264.3" y="175.3"/><use href="#mq" x="264.8" y="174.5"/><use href="#mq" x="265.4" y="173.8"/><use href="#mq" x="265.9" y="173.0"/><use href="#mq" x="266.5" y="172.3"/><use href="#mq" x="267.0" y="171.5"/><use href="#mq" x="267.6" y="170.7"/><use href="#mq" x="268.1" y="169.9"/><use href="#mq" x="268.7" y="169.1"/><use href="#mq" x="269.2" y="168.2"/><use href="#mq" x="269.8" y="167.4"/><use href="#mq" x="270.3" y="166.5"/><use href="#mq" x="270.9" y="165.6"/><use href="#mq" x="271.4" y="164.7"/><use href="#mq" x="272.0" y="163.8"/><use href="#mq" x="272.5" y="162.9"/><use href="#mq" x="273.1" y="162.0"/><use href="#mq" x="273.6" y="161.0"/><use href="#mq" x="274.2" y="160.0"/><use href="#mq" x="274.7" y="159.0"/><use href="#mq" x="275.3" y="158.0"/><use href="#mq" x="275.8" y="157.0"/><use href="#mq" x="276.4" y="155.9"/><use href="#mq" x="276.9" y="154.8"/><use href="#mq" x="277.5" y="153.7"/><use href="#mq" x="278.0" y="152.6"/><use href="#mq" x="278.6" y="151.5"/><use href="#mq" x="279.1" y="150.3"/><use href="#mq" x="279.7" y="149.1"/><use href="#mq" x="280.2" y="147.9"/><use href="#mq" x="280.8" y="146.7"/><use href="#mq" x="281.3" y="145.4"/><use href="#mq" x="281.9" y="144.1"/><use href="#mq" x="282.4" y="142.8"/><use href="#mq" x="283.0" y="141.5"/><use href="#mq" x="283.5" y="140.1"/><use href="#mq" x="284.1" y="138.7"/><use href="#mq" x="284.6" y="137.2"/><use href="#mq" x="285.2" y="135.8"/><use href="#mq" x="285.7" y="134.2"/><use href="#mq" x="286.3" y="132.7"/><use href="#mq" x="286.8" y="131.1"/><use href="#mq" x="287.4" y="129.5"/><use href="#mq" x="287.9" y="127.8"/><use href="#mq" x="288.5" y="126.1"/><use href="#mq" x="289.0" y="124.4"/><use href="#mq" x="289.6" y="122.6"/><use href="#mq" x="290.1" y="120.8"/><use href="#mq" x="290.7" y="118.9"/><use href="#mq" x="291.2" y="117.0"/><use href="#mq" x="291.8" y="115.0"/><use href="#mq" x="292.3" y="113.0"/><use href="#mq" x="292.9" y="111.0"/><use href="#mq" x="293.4" y="108.9"/><use href="#mq" x="294.0" y="106.7"/><use href="#mq" x="294.5" y="104.5"/><use href="#mq" x="295.1" y="102.2"/><use href="#mq" x="295.6" y="99.9"/><use href="#mq" x="296.2" y="97.6"/><use href="#mq" x="296.7" y="95.2"/><use href="#mq" x="297.3" y="92.7"/><use href="#mq" x="297.8" y="90.2"/><use href="#mq" x="298.4" y="87.7"/><use href="#mq" x="298.9" y="85.1"/><use href="#mq" x="299.5" y="82.4"/><use href="#mq" x="300.0" y="79.6"/><use href="#mq" x="300.6" y="76.8"/><use href="#mq" x="301.1" y="73.9"/><use href="#mq" x="301.7" y="71.0"/><use href="#mq" x="302.2" y="67.9"/><use href="#mq" x="302.8" y="64.8"/><use href="#mq" x="303.3" y="61.6"/><use href="#mq" x="303.9" y="58.3"/><use href="#mq" x="304.4" y="55.0"/><use href="#mq" x="305.0" y="51.5"/><use href="#mq" x="305.5" y="47.9"/><use href="#mq" x="306.1" y="44.2"/><use href="#mq" x="306.6" y="40.4"/><use href="#mq" x="307.2" y="36.5"/><use href="#mq" x="307.7" y="32.5"/><use href="#mq" x="308.3" y="28.4"/><use href="#mq" x="308.8" y="24.1"/><use href="#mq" x="309.4" y="19.7"/></g>
<use href="#lq" x="91.0" y="29.1"/>
<text transform="translate(97.00,34.20) scale(1.16,1)" text-anchor="start" font-size="11" font-weight="bold" fill="#000">60 s</text>
<use href="#ld" x="91.0" y="47.3"/>
<text transform="translate(97.00,52.40) scale(1.16,1)" text-anchor="start" font-size="11" font-weight="bold" fill="#000">30 s</text>
<use href="#lt" x="91.0" y="66.0"/>
<text transform="translate(97.00,71.10) scale(1.16,1)" text-anchor="start" font-size="11" font-weight="bold" fill="#000">15 s</text>
<use href="#lx" x="91.0" y="84.6"/>
<text transform="translate(97.00,89.70) scale(1.16,1)" text-anchor="start" font-size="11" font-weight="bold" fill="#000">10 s</text>
<text x="444.3" y="12.0" font-size="12.7" fill="#000">(<tspan font-style="italic">B</tspan>)</text>
<defs><pattern id="chk" width="2.8" height="2.8" patternUnits="userSpaceOnUse"><rect width="2.8" height="2.8" fill="#b4b4b4"/><rect width="1.4" height="1.4" fill="#3a3a3a"/><rect x="1.4" y="1.4" width="1.4" height="1.4" fill="#3a3a3a"/></pattern><pattern id="hat" width="4.4" height="4.4" patternUnits="userSpaceOnUse" patternTransform="rotate(45)"><rect width="4.4" height="4.4" fill="#fff"/><rect width="2.1" height="4.4" fill="#000"/></pattern></defs>
<path d="M490.75,225.7H840.75" stroke="#000" stroke-width="1.4" stroke-dasharray="3.1,1.7" fill="none"/>
<rect x="502.80" y="231.30" width="15.10" height="1.50" fill="#fff" stroke="#000" stroke-width="1"/>
<rect x="518.90" y="229.20" width="15.10" height="3.60" fill="url(#chk)" stroke="#000" stroke-width="1"/>
<rect x="535.00" y="228.70" width="15.10" height="4.10" fill="url(#hat)" stroke="#000" stroke-width="1"/>
<rect x="551.10" y="226.40" width="15.10" height="6.40" fill="#000" stroke="#000" stroke-width="1"/>
<rect x="590.30" y="230.30" width="15.10" height="2.50" fill="#fff" stroke="#000" stroke-width="1"/>
<rect x="606.40" y="229.30" width="15.10" height="3.50" fill="url(#chk)" stroke="#000" stroke-width="1"/>
<rect x="622.50" y="222.40" width="15.10" height="10.40" fill="url(#hat)" stroke="#000" stroke-width="1"/>
<rect x="638.60" y="216.00" width="15.10" height="16.80" fill="#000" stroke="#000" stroke-width="1"/>
<rect x="677.80" y="226.40" width="15.10" height="6.40" fill="#fff" stroke="#000" stroke-width="1"/>
<rect x="693.90" y="219.10" width="15.10" height="13.70" fill="url(#chk)" stroke="#000" stroke-width="1"/>
<rect x="710.00" y="204.10" width="15.10" height="28.70" fill="url(#hat)" stroke="#000" stroke-width="1"/>
<rect x="726.10" y="183.20" width="15.10" height="49.60" fill="#000" stroke="#000" stroke-width="1"/>
<rect x="765.30" y="226.00" width="15.10" height="6.80" fill="#fff" stroke="#000" stroke-width="1"/>
<rect x="781.40" y="212.50" width="15.10" height="20.30" fill="url(#chk)" stroke="#000" stroke-width="1"/>
<rect x="797.50" y="192.10" width="15.10" height="40.70" fill="url(#hat)" stroke="#000" stroke-width="1"/>
<rect x="813.60" y="75.60" width="15.10" height="157.20" fill="#000" stroke="#000" stroke-width="1"/>
<path d="M510.35,231.30V230.70M508.05,230.70H512.65M524.15,228.80H528.75M540.25,228.30H544.85M558.65,226.40V225.70M556.35,225.70H560.95M597.85,230.30V229.60M595.55,229.60H600.15M613.95,229.30V228.50M611.65,228.50H616.25M630.05,222.40V221.20M627.75,221.20H632.35M646.15,216.00V213.60M643.85,213.60H648.45M683.05,226.00H687.65M701.45,219.10V217.20M699.15,217.20H703.75M717.55,204.10V200.20M715.25,200.20H719.85M733.65,183.20V173.90M731.35,173.90H735.95M772.85,226.00V225.10M770.55,225.10H775.15M788.95,212.50V205.00M786.65,205.00H791.25M805.05,192.10V181.90M802.75,181.90H807.35M821.15,75.60V51.60M818.85,51.60H823.45" stroke="#333" stroke-width="1.1" fill="none"/>
<path d="M490.75,25.40V232.80H840.75" fill="none" stroke="#7f7f7f" stroke-width="1.3"/>
<text x="481.30" y="237.20" text-anchor="end" font-size="10.3" font-weight="bold" fill="#000">0</text>
<text x="481.30" y="211.34" text-anchor="end" font-size="10.3" font-weight="bold" fill="#000">10</text>
<text x="481.30" y="185.48" text-anchor="end" font-size="10.3" font-weight="bold" fill="#000">20</text>
<text x="481.30" y="159.61" text-anchor="end" font-size="10.3" font-weight="bold" fill="#000">30</text>
<text x="481.30" y="133.75" text-anchor="end" font-size="10.3" font-weight="bold" fill="#000">40</text>
<text x="481.30" y="107.89" text-anchor="end" font-size="10.3" font-weight="bold" fill="#000">50</text>
<text x="481.30" y="82.03" text-anchor="end" font-size="10.3" font-weight="bold" fill="#000">60</text>
<text x="481.30" y="56.16" text-anchor="end" font-size="10.3" font-weight="bold" fill="#000">70</text>
<text x="481.30" y="30.30" text-anchor="end" font-size="10.3" font-weight="bold" fill="#000">80</text>
<path d="M486.95,232.80H490.75M486.95,206.94H490.75M486.95,181.08H490.75M486.95,155.21H490.75M486.95,129.35H490.75M486.95,103.49H490.75M486.95,77.62H490.75M486.95,51.76H490.75M486.95,25.90H490.75M490.75,232.80V236.00M578.25,232.80V236.00M665.75,232.80V236.00M753.25,232.80V236.00M840.75,232.80V236.00" stroke="#7f7f7f" stroke-width="1.4" fill="none"/>
<text x="534.50" y="251.80" text-anchor="middle" font-size="10.6" font-weight="bold" fill="#000">5%</text>
<text x="622.00" y="251.80" text-anchor="middle" font-size="10.6" font-weight="bold" fill="#000">7%</text>
<text x="709.50" y="251.80" text-anchor="middle" font-size="10.6" font-weight="bold" fill="#000">10%</text>
<text x="797.00" y="251.80" text-anchor="middle" font-size="10.6" font-weight="bold" fill="#000">15%</text>
<text x="664.50" y="262.00" text-anchor="middle" font-size="10.85" font-weight="bold" fill="#000">Hydrogel Concentration (w/v)</text>
<text transform="translate(462.3,131.4) rotate(-90)" text-anchor="middle" font-size="10.7" font-weight="bold">Elastic Modulus (kPa)</text>
<rect x="504.8" y="34.50" width="5.6" height="5.6" fill="#fff" stroke="#555" stroke-width="1"/>
<text x="512.20" y="41.80" text-anchor="start" font-size="10.5" font-weight="bold" fill="#000">10 s</text>
<rect x="504.8" y="51.80" width="5.6" height="5.6" fill="url(#chk)" stroke="#000" stroke-width="1"/>
<text x="512.20" y="59.10" text-anchor="start" font-size="10.5" font-weight="bold" fill="#000">15 s</text>
<rect x="504.8" y="69.00" width="5.6" height="5.6" fill="url(#hat)" stroke="#000" stroke-width="1"/>
<text x="512.20" y="76.30" text-anchor="start" font-size="10.5" font-weight="bold" fill="#000">30 s</text>
<rect x="504.8" y="86.90" width="5.6" height="5.6" fill="#000" stroke="#000" stroke-width="1"/>
<text x="512.20" y="94.20" text-anchor="start" font-size="10.5" font-weight="bold" fill="#000">60 s</text>
<path d="M501.1,212.8V191.5" stroke="#000" stroke-width="2.6" fill="none"/>
<path d="M497.4,193.2L501.1,185.8L504.8,193.2Z" fill="#000"/>
<text x="507.80" y="206.60" text-anchor="start" font-size="12" font-weight="normal" fill="#222">Printable</text>
<path d="M594.20,194.60V190.70H643.50V194.60M614.20,202.40V198.50H643.50V202.40M679.50,127.60V123.50H731.80V127.60M700.50,134.80V131.00H731.80V134.80M715.50,145.60V141.80H731.80V145.60M679.70,167.50V163.70H714.90V167.50M697.70,176.00V172.70H714.90V176.00M773.10,30.80V27.20H817.60V30.80M784.30,36.70V33.00H817.60V36.70M799.30,42.20V38.40H817.60V42.20M766.50,147.10V143.20H799.90V147.10M782.80,159.60V155.90H799.90V159.60M766.40,177.10V173.50H784.10V177.10" stroke="#333" stroke-width="1.1" fill="none"/>
<path d="M615.50,182.95L616.30,185.10L618.59,185.20L616.80,186.62L617.41,188.83L615.50,187.56L613.59,188.83L614.20,186.62L612.41,185.20L614.70,185.10ZM627.40,191.95L628.20,194.10L630.49,194.20L628.70,195.62L629.31,197.83L627.40,196.56L625.49,197.83L626.10,195.62L624.31,194.20L626.60,194.10ZM695.30,114.25L696.10,116.40L698.39,116.50L696.60,117.92L697.21,120.13L695.30,118.86L693.39,120.13L694.00,117.92L692.21,116.50L694.50,116.40ZM701.50,114.25L702.30,116.40L704.59,116.50L702.80,117.92L703.41,120.13L701.50,118.86L699.59,120.13L700.20,117.92L698.41,116.50L700.70,116.40ZM707.70,114.25L708.50,116.40L710.79,116.50L709.00,117.92L709.61,120.13L707.70,118.86L705.79,120.13L706.40,117.92L704.61,116.50L706.90,116.40ZM713.90,114.25L714.70,116.40L716.99,116.50L715.20,117.92L715.81,120.13L713.90,118.86L711.99,120.13L712.60,117.92L710.81,116.50L713.10,116.40ZM716.20,134.85L717.00,137.00L719.29,137.10L717.50,138.52L718.11,140.73L716.20,139.47L714.29,140.73L714.90,138.52L713.11,137.10L715.40,137.00ZM722.40,134.85L723.20,137.00L725.49,137.10L723.70,138.52L724.31,140.73L722.40,139.47L720.49,140.73L721.10,138.52L719.31,137.10L721.60,137.00ZM728.60,134.85L729.40,137.00L731.69,137.10L729.90,138.52L730.51,140.73L728.60,139.47L726.69,140.73L727.30,138.52L725.51,137.10L727.80,137.00ZM688.20,153.35L689.00,155.50L691.29,155.60L689.50,157.02L690.11,159.23L688.20,157.97L686.29,159.23L686.90,157.02L685.11,155.60L687.40,155.50ZM694.40,153.35L695.20,155.50L697.49,155.60L695.70,157.02L696.31,159.23L694.40,157.97L692.49,159.23L693.10,157.02L691.31,155.60L693.60,155.50ZM700.60,153.35L701.40,155.50L703.69,155.60L701.90,157.02L702.51,159.23L700.60,157.97L698.69,159.23L699.30,157.02L697.51,155.60L699.80,155.50ZM706.80,153.35L707.60,155.50L709.89,155.60L708.10,157.02L708.71,159.23L706.80,157.97L704.89,159.23L705.50,157.02L703.71,155.60L706.00,155.50ZM702.10,165.55L702.90,167.70L705.19,167.80L703.40,169.22L704.01,171.43L702.10,170.17L700.19,171.43L700.80,169.22L699.01,167.80L701.30,167.70ZM708.30,165.55L709.10,167.70L711.39,167.80L709.60,169.22L710.21,171.43L708.30,170.17L706.39,171.43L707.00,169.22L705.21,167.80L707.50,167.70ZM786.50,18.35L787.30,20.50L789.59,20.60L787.80,22.02L788.41,24.23L786.50,22.96L784.59,24.23L785.20,22.02L783.41,20.60L785.70,20.50ZM792.70,18.35L793.50,20.50L795.79,20.60L794.00,22.02L794.61,24.23L792.70,22.96L790.79,24.23L791.40,22.02L789.61,20.60L791.90,20.50ZM798.90,18.35L799.70,20.50L801.99,20.60L800.20,22.02L800.81,24.23L798.90,22.96L796.99,24.23L797.60,22.02L795.81,20.60L798.10,20.50ZM805.10,18.35L805.90,20.50L808.19,20.60L806.40,22.02L807.01,24.23L805.10,22.96L803.19,24.23L803.80,22.02L802.01,20.60L804.30,20.50ZM772.00,134.45L772.80,136.60L775.09,136.70L773.30,138.12L773.91,140.33L772.00,139.06L770.09,140.33L770.70,138.12L768.91,136.70L771.20,136.60ZM778.20,134.45L779.00,136.60L781.29,136.70L779.50,138.12L780.11,140.33L778.20,139.06L776.29,140.33L776.90,138.12L775.11,136.70L777.40,136.60ZM784.40,134.45L785.20,136.60L787.49,136.70L785.70,138.12L786.31,140.33L784.40,139.06L782.49,140.33L783.10,138.12L781.31,136.70L783.60,136.60ZM790.60,134.45L791.40,136.60L793.69,136.70L791.90,138.12L792.51,140.33L790.60,139.06L788.69,140.33L789.30,138.12L787.51,136.70L789.80,136.60ZM783.50,148.85L784.30,151.00L786.59,151.10L784.80,152.52L785.41,154.73L783.50,153.47L781.59,154.73L782.20,152.52L780.41,151.10L782.70,151.00ZM789.70,148.85L790.50,151.00L792.79,151.10L791.00,152.52L791.61,154.73L789.70,153.47L787.79,154.73L788.40,152.52L786.61,151.10L788.90,151.00ZM795.90,148.85L796.70,151.00L798.99,151.10L797.20,152.52L797.81,154.73L795.90,153.47L793.99,154.73L794.60,152.52L792.81,151.10L795.10,151.00ZM773.40,165.75L774.20,167.90L776.49,168.00L774.70,169.42L775.31,171.63L773.40,170.37L771.49,171.63L772.10,169.42L770.31,168.00L772.60,167.90Z" fill="#1a1a1a"/>
</svg>
</body></html>
